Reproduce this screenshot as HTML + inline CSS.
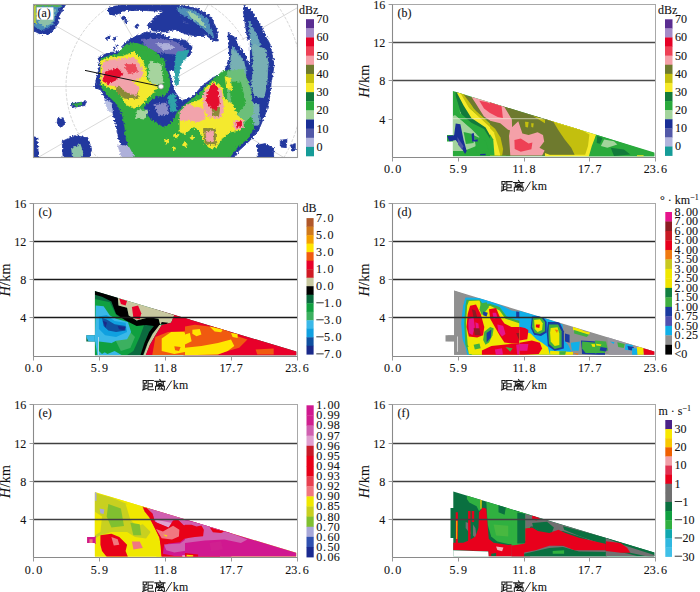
<!DOCTYPE html><html><head><meta charset="utf-8"><style>html,body{margin:0;padding:0;background:#fff;width:700px;height:592px;overflow:hidden}svg{display:block}text{stroke:#111;stroke-width:0.1px}</style></head><body><svg width="700" height="592" viewBox="0 0 700 592" style="font-family:'Liberation Serif',serif" fill="#111">
<rect width="700" height="592" fill="#fff"/>
<defs><clipPath id="ca"><rect x="33.5" y="4.1" width="263.5" height="153.3"/></clipPath></defs><g clip-path="url(#ca)">
<circle cx="161" cy="86.5" r="95" fill="none" stroke="#c4c4c4" stroke-width="0.7" stroke-dasharray="3 1.5"/>
<circle cx="161" cy="86.5" r="142" fill="none" stroke="#c4c4c4" stroke-width="0.7" stroke-dasharray="3 1.5"/>
<line x1="161" y1="86.5" x2="561.0" y2="86.5" stroke="#c8c8c8" stroke-width="0.7"/>
<line x1="161" y1="86.5" x2="507.4" y2="-113.5" stroke="#c8c8c8" stroke-width="0.7"/>
<line x1="161" y1="86.5" x2="361.0" y2="-259.9" stroke="#c8c8c8" stroke-width="0.7"/>
<line x1="161" y1="86.5" x2="161.0" y2="-313.5" stroke="#c8c8c8" stroke-width="0.7"/>
<line x1="161" y1="86.5" x2="-39.0" y2="-259.9" stroke="#c8c8c8" stroke-width="0.7"/>
<line x1="161" y1="86.5" x2="-185.4" y2="-113.5" stroke="#c8c8c8" stroke-width="0.7"/>
<line x1="161" y1="86.5" x2="-239.0" y2="86.5" stroke="#c8c8c8" stroke-width="0.7"/>
<line x1="161" y1="86.5" x2="-185.4" y2="286.5" stroke="#c8c8c8" stroke-width="0.7"/>
<line x1="161" y1="86.5" x2="-39.0" y2="432.9" stroke="#c8c8c8" stroke-width="0.7"/>
<line x1="161" y1="86.5" x2="161.0" y2="486.5" stroke="#c8c8c8" stroke-width="0.7"/>
<line x1="161" y1="86.5" x2="361.0" y2="432.9" stroke="#c8c8c8" stroke-width="0.7"/>
<line x1="161" y1="86.5" x2="507.4" y2="286.5" stroke="#c8c8c8" stroke-width="0.7"/>
<filter id="rg" x="-5%" y="-5%" width="110%" height="110%"><feTurbulence type="fractalNoise" baseFrequency="0.5" numOctaves="2" seed="7" result="t"/><feDisplacementMap in="SourceGraphic" in2="t" scale="4" xChannelSelector="R" yChannelSelector="G"/></filter><g filter="url(#rg)">
<polygon points="33.0,4.0 66.0,4.0 59.4,15.3 58.5,22.9 50.0,34.2 40.5,34.2 33.0,30.4" fill="#24389e" stroke="#24389e" stroke-width="0.8" stroke-linejoin="round"/>
<polygon points="108.4,8.7 116.0,5.9 123.5,7.8 121.6,12.5 114.1,15.3 108.4,13.4" fill="#24389e" stroke="#24389e" stroke-width="0.8" stroke-linejoin="round"/>
<polygon points="125.3,18.1 125.1,19.0 124.4,19.7 123.5,20.0 122.6,19.7 121.9,19.0 121.7,18.1 121.9,17.2 122.6,16.6 123.5,16.3 124.4,16.6 125.1,17.2" fill="#24389e" stroke="#24389e" stroke-width="0.8" stroke-linejoin="round"/>
<polygon points="127.7,21.9 127.5,22.6 127.0,23.1 126.3,23.3 125.7,23.1 125.2,22.6 125.0,21.9 125.2,21.2 125.7,20.7 126.3,20.6 127.0,20.7 127.5,21.2" fill="#24389e" stroke="#24389e" stroke-width="0.8" stroke-linejoin="round"/>
<polygon points="138.3,26.6 138.1,27.4 137.5,28.0 136.7,28.2 135.9,28.0 135.3,27.4 135.1,26.6 135.3,25.8 135.9,25.3 136.7,25.0 137.5,25.3 138.1,25.8" fill="#24389e" stroke="#24389e" stroke-width="0.8" stroke-linejoin="round"/>
<polygon points="108.8,37.9 108.7,38.6 108.2,39.1 107.5,39.3 106.8,39.1 106.3,38.6 106.1,37.9 106.3,37.3 106.8,36.8 107.5,36.6 108.2,36.8 108.7,37.3" fill="#24389e" stroke="#24389e" stroke-width="0.8" stroke-linejoin="round"/>
<polygon points="115.4,38.9 115.3,39.6 114.8,40.1 114.1,40.2 113.4,40.1 112.9,39.6 112.7,38.9 112.9,38.2 113.4,37.7 114.1,37.5 114.8,37.7 115.3,38.2" fill="#24389e" stroke="#24389e" stroke-width="0.8" stroke-linejoin="round"/>
<polygon points="115.2,48.3 115.1,48.9 114.7,49.3 114.1,49.4 113.5,49.3 113.1,48.9 113.0,48.3 113.1,47.7 113.5,47.3 114.1,47.2 114.7,47.3 115.1,47.7" fill="#24389e" stroke="#24389e" stroke-width="0.8" stroke-linejoin="round"/>
<polygon points="108.6,8.3 121.4,5.1 172.9,4.0 196.4,8.3 211.4,16.9 216.8,29.7 218.3,40.9 213.6,40.9 202.8,32.9 190.0,24.4 175.0,15.8 164.3,11.5 142.9,10.4 125.7,10.4 112.9,14.3 108.6,12.6" fill="#24389e" stroke="#24389e" stroke-width="0.8" stroke-linejoin="round"/>
<polygon points="147.1,25.4 155.7,16.9 164.3,10.4 172.9,12.6 181.4,19.0 185.7,23.3 196.4,25.4 202.8,31.9 205.0,36.6 196.4,36.1 185.7,34.0 175.0,29.7 164.3,31.9 151.4,30.8" fill="#24389e" stroke="#24389e" stroke-width="0.8" stroke-linejoin="round"/>
<polygon points="127.9,40.4 136.4,36.1 147.1,31.9 162.1,34.0 170.7,38.3 185.7,40.4 192.1,46.9 190.0,55.4 183.6,57.6 179.3,64.0 175.0,70.4 149.3,70.4 130.0,53.3 121.4,46.9" fill="#24389e" stroke="#24389e" stroke-width="0.8" stroke-linejoin="round"/>
<polygon points="126.6,18.6 126.3,19.5 125.6,20.2 124.6,20.5 123.7,20.2 123.0,19.5 122.7,18.6 123.0,17.6 123.7,16.9 124.6,16.6 125.6,16.9 126.3,17.6" fill="#24389e" stroke="#24389e" stroke-width="0.8" stroke-linejoin="round"/>
<polygon points="138.8,25.4 138.6,26.1 138.1,26.5 137.5,26.7 136.9,26.5 136.4,26.1 136.2,25.4 136.4,24.8 136.9,24.3 137.5,24.1 138.1,24.3 138.6,24.8" fill="#24389e" stroke="#24389e" stroke-width="0.8" stroke-linejoin="round"/>
<polygon points="110.1,37.2 109.9,38.0 109.3,38.5 108.6,38.7 107.8,38.5 107.3,38.0 107.1,37.2 107.3,36.5 107.8,35.9 108.6,35.7 109.3,35.9 109.9,36.5" fill="#24389e" stroke="#24389e" stroke-width="0.8" stroke-linejoin="round"/>
<polygon points="116.3,38.3 116.1,38.9 115.6,39.4 115.0,39.6 114.4,39.4 113.9,38.9 113.7,38.3 113.9,37.6 114.4,37.2 115.0,37.0 115.6,37.2 116.1,37.6" fill="#24389e" stroke="#24389e" stroke-width="0.8" stroke-linejoin="round"/>
<polygon points="118.2,45.8 118.1,46.3 117.7,46.7 117.1,46.9 116.6,46.7 116.2,46.3 116.1,45.8 116.2,45.2 116.6,44.9 117.1,44.7 117.7,44.9 118.1,45.2" fill="#24389e" stroke="#24389e" stroke-width="0.8" stroke-linejoin="round"/>
<polygon points="228.0,34.9 236.6,38.3 240.0,48.6 240.0,72.6 231.4,70.9 229.7,55.4" fill="#24389e" stroke="#24389e" stroke-width="0.8" stroke-linejoin="round"/>
<polygon points="244.2,4.9 250.8,9.7 261.2,26.6 270.6,45.5 274.0,66.2 271.5,80.9 250.8,80.9 249.9,58.7 246.5,32.3 243.3,11.5" fill="#24389e" stroke="#24389e" stroke-width="0.8" stroke-linejoin="round"/>
<polygon points="228.2,33.2 235.1,37.6 244.2,51.1 249.9,66.2 250.2,80.9 227.2,80.9 229.1,60.6 230.1,47.4" fill="#24389e" stroke="#24389e" stroke-width="0.8" stroke-linejoin="round"/>
<polygon points="99.1,57.3 108.2,52.7 133.8,50.0 150.2,50.0 148.4,57.3 159.3,57.3 166.6,64.6 170.2,75.5 173.9,90.1 181.2,101.1 192.1,97.1 203.1,87.6 210.0,84.7 210.0,158.0 131.9,158.0 119.2,141.2 115.5,123.0 111.9,110.2 100.9,90.1 94.6,87.4 96.4,79.2 99.1,68.2" fill="#24389e" stroke="#24389e" stroke-width="0.8" stroke-linejoin="round"/>
<polygon points="104.6,98.9 111.5,102.9 112.6,112.9 109.0,111.1 105.7,104.7" fill="#b8c0e4" stroke="#b8c0e4" stroke-width="0.8" stroke-linejoin="round"/>
<polygon points="70.7,103.6 85.8,101.7 84.9,105.5 72.6,107.4" fill="#24389e" stroke="#24389e" stroke-width="0.8" stroke-linejoin="round"/>
<polygon points="57.5,118.7 63.2,117.8 64.7,124.4 60.3,127.2 57.1,123.4" fill="#24389e" stroke="#24389e" stroke-width="0.8" stroke-linejoin="round"/>
<polygon points="62.2,141.3 74.5,135.7 87.7,137.6 91.5,148.9 89.6,157.9 63.2,157.9" fill="#24389e" stroke="#24389e" stroke-width="0.8" stroke-linejoin="round"/>
<polygon points="33.0,136.6 36.8,137.6 38.7,157.9 33.0,157.9" fill="#24389e" stroke="#24389e" stroke-width="0.8" stroke-linejoin="round"/>
<polygon points="117.9,145.1 134.8,147.0 138.6,157.9 121.6,157.9" fill="#aeb0da" stroke="#aeb0da" stroke-width="0.8" stroke-linejoin="round"/>
<polygon points="180.0,113.2 190.0,99.8 201.7,86.4 213.4,77.4 224.3,72.4 228.5,60.0 273.6,60.0 271.9,73.4 270.3,93.4 266.9,110.1 258.6,130.2 250.2,140.2 238.5,151.1 233.5,157.9 180.0,157.9" fill="#24389e" stroke="#24389e" stroke-width="0.8" stroke-linejoin="round"/>
<polygon points="280.3,140.2 287.0,139.4 286.1,147.7 280.3,146.9" fill="#24389e" stroke="#24389e" stroke-width="0.8" stroke-linejoin="round"/>
<polygon points="256.9,145.2 265.2,143.6 273.6,148.6 273.6,157.9 258.6,157.9" fill="#24389e" stroke="#24389e" stroke-width="0.8" stroke-linejoin="round"/>
<polygon points="290.3,145.2 295.3,143.6 295.3,150.3 292.0,151.1" fill="#24389e" stroke="#24389e" stroke-width="0.8" stroke-linejoin="round"/>
<polygon points="140.7,39.4 160.0,38.3 177.1,42.6 185.7,49.0 181.4,54.4 164.3,53.3 149.3,50.1" fill="#6a6cb8" stroke="#6a6cb8" stroke-width="0.8" stroke-linejoin="round"/>
<polygon points="155.7,43.6 168.6,43.6 175.0,47.9 164.3,50.1" fill="#aeb0da" stroke="#aeb0da" stroke-width="0.8" stroke-linejoin="round"/>
<polygon points="235.5,40.0 249.7,40.0 249.4,64.3 246.2,55.2" fill="#ffffff" stroke="#ffffff" stroke-width="0.8" stroke-linejoin="round"/>
<polygon points="35.8,5.9 61.3,5.5 55.6,15.3 53.7,22.9 48.1,28.5 40.5,29.5 34.9,26.6" fill="#4a8cb8" stroke="#4a8cb8" stroke-width="0.8" stroke-linejoin="round"/>
<polygon points="177.1,7.2 194.3,10.4 207.1,19.0 212.5,31.9 213.6,38.3 205.0,29.7 192.1,20.1 179.3,12.6" fill="#4f8fb8" stroke="#4f8fb8" stroke-width="0.8" stroke-linejoin="round"/>
<polygon points="177.1,52.2 188.9,50.1 185.7,58.6 179.3,65.1 176.1,61.9" fill="#2fa3a8" stroke="#2fa3a8" stroke-width="0.8" stroke-linejoin="round"/>
<polygon points="176.6,53.7 183.4,55.4 179.1,72.6 178.3,84.6 174.9,84.6 174.5,69.1" fill="#2fa3a8" stroke="#2fa3a8" stroke-width="0.8" stroke-linejoin="round"/>
<polygon points="248.9,21.0 257.4,36.1 262.1,53.0 263.4,80.9 255.9,80.9 253.3,58.7 250.2,36.1" fill="#6aa6b8" stroke="#6aa6b8" stroke-width="0.8" stroke-linejoin="round"/>
<polygon points="232.5,46.4 240.4,55.9 245.7,68.1 246.1,80.9 231.4,80.9 232.5,60.6" fill="#6aa6b8" stroke="#6aa6b8" stroke-width="0.8" stroke-linejoin="round"/>
<polygon points="231.7,49.1 243.9,61.3 245.4,76.5 243.9,91.7 251.5,100.9 259.1,105.4 259.1,125.2 242.4,125.2 233.3,106.9 231.7,85.6 230.2,67.4" fill="#78b0b4" stroke="#78b0b4" stroke-width="0.8" stroke-linejoin="round"/>
<polygon points="253.0,44.6 265.2,49.1 268.2,62.8 266.7,85.6 263.7,97.8 254.6,96.3 251.5,85.6 253.0,70.4 253.0,55.2" fill="#78b0b4" stroke="#78b0b4" stroke-width="0.8" stroke-linejoin="round"/>
<polygon points="246.2,75.0 249.2,85.6 253.0,97.8 260.6,100.1 259.1,103.9 251.5,100.9 245.4,91.7" fill="#24389e" stroke="#24389e" stroke-width="0.8" stroke-linejoin="round"/>
<polygon points="187.9,11.5 196.4,14.7 203.9,23.3 206.1,28.6 198.6,23.3 191.1,17.3" fill="#9ccfa8" stroke="#9ccfa8" stroke-width="0.8" stroke-linejoin="round"/>
<polygon points="116.0,55.9 126.3,44.5 134.8,42.7 146.1,46.4 153.7,51.1 165.0,60.6 165.0,66.2 116.0,66.2" fill="#31ac3f" stroke="#31ac3f" stroke-width="0.8" stroke-linejoin="round"/>
<polygon points="100.9,59.1 110.1,55.5 121.0,54.6 133.8,50.0 146.5,50.0 148.4,59.1 153.8,60.9 163.0,64.6 168.4,73.7 170.2,84.7 166.6,93.8 159.3,97.4 148.4,104.7 144.7,110.2 150.2,119.3 159.3,123.0 166.6,126.6 173.9,119.3 177.5,112.0 184.8,104.7 192.1,99.2 203.1,90.1 210.0,86.5 210.0,158.0 135.6,158.0 126.5,141.2 124.7,126.6 122.8,115.7 117.4,104.7 106.4,93.8 100.9,86.5 100.9,71.9" fill="#31ac3f" stroke="#31ac3f" stroke-width="0.8" stroke-linejoin="round"/>
<polygon points="73.5,104.0 82.0,103.3 81.7,104.9 74.5,105.9" fill="#31ac3f" stroke="#31ac3f" stroke-width="0.8" stroke-linejoin="round"/>
<polygon points="180.0,115.2 193.4,100.1 205.1,86.7 216.8,76.7 221.8,71.7 230.1,70.0 230.1,83.4 235.2,100.1 240.2,111.8 250.2,115.2 254.4,126.9 248.5,137.7 236.8,147.7 229.3,157.9 180.0,157.9" fill="#31ac3f" stroke="#31ac3f" stroke-width="0.8" stroke-linejoin="round"/>
<polygon points="227.5,71.7 243.1,69.1 250.9,89.9 253.5,113.4 243.1,123.8 232.7,118.6 227.5,97.8" fill="#6cbf7a" stroke="#6cbf7a" stroke-width="0.8" stroke-linejoin="round"/>
<polygon points="230.1,82.1 240.5,82.1 245.7,103.0 237.9,113.4 231.4,103.0" fill="#31ac3f" stroke="#31ac3f" stroke-width="0.8" stroke-linejoin="round"/>
<polygon points="144.7,106.5 155.7,97.4 166.6,95.6 173.9,97.4 175.7,108.4 170.2,123.0 163.0,126.6 152.0,119.3 144.7,112.0" fill="#24389e" stroke="#24389e" stroke-width="0.8" stroke-linejoin="round"/>
<polygon points="153.8,104.7 166.6,102.9 168.4,113.8 159.3,115.7" fill="#8a8cc8" stroke="#8a8cc8" stroke-width="0.8" stroke-linejoin="round"/>
<polygon points="167.5,96.5 174.8,93.8 176.6,110.2 172.1,112.9" fill="#2fa3a8" stroke="#2fa3a8" stroke-width="0.8" stroke-linejoin="round"/>
<polygon points="40.5,11.5 55.6,9.7 51.9,22.9 44.3,26.6 38.7,22.9" fill="#8cc0a8" stroke="#8cc0a8" stroke-width="0.8" stroke-linejoin="round"/>
<polygon points="150.2,60.9 161.1,64.6 163.0,82.8 153.8,86.5 148.4,77.4" fill="#a6d49e" stroke="#a6d49e" stroke-width="0.8" stroke-linejoin="round"/>
<polygon points="137.4,110.2 148.4,110.2 144.7,119.3 135.6,117.5" fill="#a6d49e" stroke="#a6d49e" stroke-width="0.8" stroke-linejoin="round"/>
<polygon points="71.7,148.9 80.1,144.2 83.0,152.7 81.1,157.9 72.6,157.9" fill="#8cc4a8" stroke="#8cc4a8" stroke-width="0.8" stroke-linejoin="round"/>
<polygon points="34.9,4.0 61.3,4.0 59.4,6.3 34.9,6.3" fill="#58b050" stroke="#58b050" stroke-width="0.8" stroke-linejoin="round"/>
<polygon points="33.0,4.9 35.8,4.9 35.8,22.9 33.0,22.9" fill="#b8cc3a" stroke="#b8cc3a" stroke-width="0.8" stroke-linejoin="round"/>
<polygon points="100.9,60.9 110.1,57.3 122.8,56.4 133.8,51.8 142.9,60.9 146.5,71.9 146.5,79.2 150.2,82.8 157.5,86.5 152.0,93.8 141.1,104.7 133.8,108.4 126.5,104.7 121.0,95.6 115.5,90.1 106.4,86.5 100.9,82.8" fill="#f4e92e" stroke="#f4e92e" stroke-width="0.8" stroke-linejoin="round"/>
<polygon points="168.4,141.2 168.2,142.1 167.5,142.8 166.6,143.0 165.7,142.8 165.0,142.1 164.8,141.2 165.0,140.3 165.7,139.6 166.6,139.4 167.5,139.6 168.2,140.3" fill="#f4e92e" stroke="#f4e92e" stroke-width="0.8" stroke-linejoin="round"/>
<polygon points="177.9,135.7 177.6,136.8 176.8,137.6 175.7,137.9 174.6,137.6 173.8,136.8 173.5,135.7 173.8,134.6 174.6,133.8 175.7,133.5 176.8,133.8 177.6,134.6" fill="#f4e92e" stroke="#f4e92e" stroke-width="0.8" stroke-linejoin="round"/>
<polygon points="187.0,144.8 186.7,145.9 185.9,146.7 184.8,147.0 183.7,146.7 182.9,145.9 182.7,144.8 182.9,143.7 183.7,142.9 184.8,142.7 185.9,142.9 186.7,143.7" fill="#f4e92e" stroke="#f4e92e" stroke-width="0.8" stroke-linejoin="round"/>
<polygon points="194.0,137.5 193.7,138.5 193.0,139.1 192.1,139.4 191.2,139.1 190.6,138.5 190.3,137.5 190.6,136.6 191.2,136.0 192.1,135.7 193.0,136.0 193.7,136.6" fill="#f4e92e" stroke="#f4e92e" stroke-width="0.8" stroke-linejoin="round"/>
<polygon points="175.5,148.5 175.3,149.3 174.7,149.9 173.9,150.1 173.1,149.9 172.5,149.3 172.3,148.5 172.5,147.7 173.1,147.1 173.9,146.8 174.7,147.1 175.3,147.7" fill="#f4e92e" stroke="#f4e92e" stroke-width="0.8" stroke-linejoin="round"/>
<polygon points="180.0,116.8 186.7,105.1 203.4,98.4 205.1,88.4 213.4,81.7 221.8,86.7 223.5,98.4 233.5,105.1 236.8,115.2 243.5,120.2 240.2,130.2 230.1,131.9 221.8,138.6 216.8,146.9 210.1,148.6 205.1,143.6 200.1,131.9 193.4,126.9 185.0,133.5 180.0,131.9" fill="#f4e92e" stroke="#f4e92e" stroke-width="0.8" stroke-linejoin="round"/>
<polygon points="225.1,76.7 230.1,78.4 231.8,90.1 226.8,88.4" fill="#f4e92e" stroke="#f4e92e" stroke-width="0.8" stroke-linejoin="round"/>
<polygon points="115.5,84.7 137.4,87.4 138.3,98.3 124.7,98.3 117.4,92.9" fill="#8a8a38" stroke="#8a8a38" stroke-width="0.8" stroke-linejoin="round"/>
<polygon points="185.0,113.5 196.7,110.1 200.1,118.5 188.4,118.5" fill="#8a8a38" stroke="#8a8a38" stroke-width="0.8" stroke-linejoin="round"/>
<polygon points="203.4,128.5 215.1,128.5 215.9,145.2 205.1,143.6" fill="#8a8a38" stroke="#8a8a38" stroke-width="0.8" stroke-linejoin="round"/>
<polygon points="106.4,60.9 115.5,62.8 111.9,68.2 104.6,68.2" fill="#8a8a38" stroke="#8a8a38" stroke-width="0.8" stroke-linejoin="round"/>
<polygon points="102.8,62.8 111.9,60.0 124.7,59.1 133.8,57.3 141.1,66.4 142.9,75.5 137.4,79.2 131.9,81.0 139.2,88.3 135.6,95.6 131.9,93.8 126.5,91.9 119.2,86.5 108.2,84.7 102.8,79.2" fill="#f2a3ab" stroke="#f2a3ab" stroke-width="0.8" stroke-linejoin="round"/>
<polygon points="180.0,111.8 188.4,103.5 193.4,106.8 203.4,108.5 205.1,118.5 198.4,121.8 190.0,120.2 180.0,120.2" fill="#f2a3ab" stroke="#f2a3ab" stroke-width="0.8" stroke-linejoin="round"/>
<polygon points="203.4,93.4 213.4,83.4 221.8,91.8 223.5,110.1 220.1,118.5 208.4,116.8 203.4,106.8" fill="#f2a3ab" stroke="#f2a3ab" stroke-width="0.8" stroke-linejoin="round"/>
<polygon points="205.9,131.9 213.4,131.0 213.1,141.9 206.7,141.1" fill="#f2a3ab" stroke="#f2a3ab" stroke-width="0.8" stroke-linejoin="round"/>
<polygon points="233.5,121.8 242.7,120.2 243.5,127.7 235.2,129.4" fill="#f2a3ab" stroke="#f2a3ab" stroke-width="0.8" stroke-linejoin="round"/>
<polygon points="211.8,106.8 220.1,107.6 218.4,116.8 213.4,115.2" fill="#8a8a38" stroke="#8a8a38" stroke-width="0.8" stroke-linejoin="round"/>
<polygon points="105.5,71.9 117.4,68.2 122.8,73.7 117.4,79.2 108.2,83.7 102.8,81.0" fill="#e4102e" stroke="#e4102e" stroke-width="0.8" stroke-linejoin="round"/>
<polygon points="124.7,64.6 135.6,64.6 137.4,71.9 128.3,73.7" fill="#ec4a5a" stroke="#ec4a5a" stroke-width="0.8" stroke-linejoin="round"/>
<polygon points="206.7,95.1 212.6,83.4 217.6,87.6 218.4,95.1 219.3,103.5 215.9,110.1 210.1,106.8 206.7,101.8" fill="#e4102e" stroke="#e4102e" stroke-width="0.8" stroke-linejoin="round"/>
<polygon points="236.0,122.7 241.5,121.5 241.5,126.5 237.2,127.7" fill="#e4102e" stroke="#e4102e" stroke-width="0.8" stroke-linejoin="round"/>
</g>
<line x1="85" y1="70.4" x2="161" y2="86.5" stroke="#111" stroke-width="1"/>
<circle cx="161" cy="86.5" r="2.6" fill="#fff" stroke="#888" stroke-width="0.8"/>
</g>
<rect x="33.5" y="4.5" width="264" height="153" fill="none" stroke="#9a9a9a" stroke-width="1.1"/>
<rect x="36.7" y="7.3" width="16.7" height="12.4" fill="#fff"/>
<text x="37.5" y="16.6" font-size="12" text-anchor="start" >(a)</text>
<rect x="306" y="19.20" width="8.00" height="9.42" fill="#5a2d91"/>
<rect x="306" y="28.32" width="8.00" height="9.42" fill="#a58ac8"/>
<rect x="306" y="37.44" width="8.00" height="9.42" fill="#e60026"/>
<rect x="306" y="46.56" width="8.00" height="9.42" fill="#ee4055"/>
<rect x="306" y="55.68" width="8.00" height="9.42" fill="#f4a0a8"/>
<rect x="306" y="64.80" width="8.00" height="9.42" fill="#6e7a2e"/>
<rect x="306" y="73.92" width="8.00" height="9.42" fill="#c3bf0e"/>
<rect x="306" y="83.04" width="8.00" height="9.42" fill="#f6ea2a"/>
<rect x="306" y="92.16" width="8.00" height="9.42" fill="#127a3a"/>
<rect x="306" y="101.28" width="8.00" height="9.42" fill="#2aaa3c"/>
<rect x="306" y="110.40" width="8.00" height="9.42" fill="#a3d49c"/>
<rect x="306" y="119.52" width="8.00" height="9.42" fill="#1a2f96"/>
<rect x="306" y="128.64" width="8.00" height="9.42" fill="#5258a8"/>
<rect x="306" y="137.76" width="8.00" height="9.42" fill="#b2b4dd"/>
<rect x="306" y="146.88" width="8.00" height="9.42" fill="#159c98"/>
<text transform="translate(316.50,23.10) scale(0.93,1)" font-size="13" text-anchor="start">70</text>
<text transform="translate(316.50,41.34) scale(0.93,1)" font-size="13" text-anchor="start">60</text>
<text transform="translate(316.50,59.58) scale(0.93,1)" font-size="13" text-anchor="start">50</text>
<text transform="translate(316.50,77.82) scale(0.93,1)" font-size="13" text-anchor="start">40</text>
<text transform="translate(316.50,96.06) scale(0.93,1)" font-size="13" text-anchor="start">30</text>
<text transform="translate(316.50,114.30) scale(0.93,1)" font-size="13" text-anchor="start">20</text>
<text transform="translate(316.50,132.54) scale(0.93,1)" font-size="13" text-anchor="start">10</text>
<text transform="translate(316.50,150.78) scale(0.93,1)" font-size="13" text-anchor="start">0</text>
<text x="299" y="13.5" font-size="12">dBz</text>
<defs><clipPath id="cpb"><polygon points="452.9,91.0 654.3,152.4 654.3,156.2 452.9,156.2 452.9,141.5 447.0,141.5 447.0,135.0 452.9,135.0"/></clipPath></defs><g clip-path="url(#cpb)">
<rect x="0" y="0" width="700" height="592" fill="#2aaa3c"/>
<polygon points="452.9,116.4 458.9,110.1 468.3,121.1 480.9,129.0 487.1,136.9 479.3,144.7 471.4,147.9 463.6,151.0 452.9,151.0" fill="#a3d49c"/>
<polygon points="463.6,133.7 471.4,132.1 473.0,141.6 465.1,143.1" fill="#2aaa3c"/>
<polygon points="474.6,133.7 487.1,140.0 490.3,151.0 476.1,152.6" fill="#2aaa3c"/>
<polygon points="455.7,91.3 461.2,93.6 473.0,116.4 487.1,124.3 496.6,138.4 500.5,155.2 492.6,155.2 487.1,140.0 474.6,125.9 462.0,116.4 455.7,96.0" fill="#127a3a"/>
<polygon points="452.9,103.9 454.9,94.4 460.4,113.3 471.4,122.7 484.0,129.0 491.9,141.6 491.9,155.2 485.6,155.2 480.9,138.4 471.4,129.0 462.0,121.1 454.1,114.9" fill="#2aaa3c"/>
<polygon points="454.9,114.9 462.0,121.1 471.4,130.6 479.3,136.9 477.7,144.7 468.3,147.9 460.4,146.3 454.9,132.1" fill="#a3d49c"/>
<polygon points="463.6,132.1 471.4,133.7 473.8,143.1 465.9,143.9" fill="#2aaa3c"/>
<polygon points="473.8,135.3 485.6,140.8 488.7,151.0 476.9,152.6" fill="#2aaa3c"/>
<polygon points="455.7,123.5 460.4,124.3 463.6,140.0 466.7,151.0 465.1,154.1 460.4,146.3 455.7,140.0 449.4,141.6 447.1,136.1 454.1,135.3" fill="#1a2f96"/>
<polygon points="457.3,136.9 463.6,146.3 462.0,149.4 458.1,144.7" fill="#5258a8"/>
<polygon points="471.4,133.7 473.8,132.9 474.6,140.0 477.7,139.2 477.7,141.6 472.2,141.6" fill="#1a2f96"/>
<polygon points="480.1,154.1 485.6,153.8 485.6,155.2 480.1,155.2" fill="#1a2f96"/>
<polygon points="456.5,92.1 462.0,93.6 469.9,108.6 480.9,118.0 490.3,125.9 498.1,135.3 502.9,151.0 506.0,155.2 496.6,155.2 493.4,141.6 485.6,127.4 471.4,118.0 463.6,105.4" fill="#f6ea2a"/>
<polygon points="460.4,92.9 465.9,94.7 473.8,108.6 484.8,118.8 495.8,129.0 501.6,140.0 506.0,154.1 503.6,155.2 498.5,137.6 490.6,127.7 479.3,117.2 468.6,107.3" fill="#c3bf0e"/>
<polygon points="463.6,94.4 480.9,100.7 506.0,107.0 524.9,114.1 550.0,119.6 550.0,155.2 506.0,155.2 504.4,141.6 498.1,130.6 487.1,120.4 476.1,110.9" fill="#6e7a2e"/>
<polygon points="471.4,96.8 484.0,99.9 502.9,107.0 509.1,116.4 513.9,122.7 518.6,121.1 521.7,132.1 534.3,132.1 543.7,135.3 543.7,144.7 537.4,151.0 518.6,154.1 509.1,151.0 507.6,140.0 502.9,132.1 493.4,122.7 484.0,116.4 476.1,103.9" fill="#f4a0a8"/>
<polygon points="479.3,100.7 487.1,102.3 501.3,108.6 502.9,116.4 496.6,118.0 490.3,113.3 484.0,108.6" fill="#ee4055"/>
<polygon points="513.9,138.4 520.1,140.0 528.0,144.7 532.7,147.9 518.6,151.0 515.4,147.9" fill="#ee4055"/>
<polygon points="532.7,116.4 537.4,117.2 535.9,125.9 532.7,124.3" fill="#c3bf0e"/>
<polygon points="490.0,95.0 580.0,95.0 580.0,155.4 490.0,155.4" fill="#6e7a2e"/>
<polygon points="490.0,102.1 504.1,106.6 511.9,119.4 512.1,131.0 508.0,129.7 500.3,123.3 490.0,120.7" fill="#f4a0a8"/>
<polygon points="490.0,102.1 501.6,106.3 502.9,118.1 497.7,116.9 490.0,113.0" fill="#ee4055"/>
<polygon points="490.0,132.3 495.1,137.4 497.1,146.4 497.7,155.4 490.0,155.4" fill="#127a3a"/>
<polygon points="490.0,124.6 495.1,128.7 500.5,137.4 503.1,149.0 502.2,155.4 490.0,155.4" fill="#c3bf0e"/>
<polygon points="490.0,128.2 493.9,132.3 498.0,146.4 500.3,155.4 490.0,155.4" fill="#f6ea2a"/>
<polygon points="490.0,134.2 493.2,139.3 494.5,155.4 490.0,155.4" fill="#2aaa3c"/>
<polygon points="510.3,128.7 518.3,121.3 522.4,133.6 528.6,135.1 537.6,132.3 543.0,135.1 544.2,141.5 539.5,147.7 544.6,150.5 542.1,155.4 510.3,155.4 509.0,136.1" fill="#f4a0a8"/>
<polygon points="514.4,140.0 520.8,138.4 528.6,143.6 532.4,142.6 531.4,149.2 520.8,151.8 514.7,149.0" fill="#ee4055"/>
<polygon points="532.4,115.6 544.0,119.4 580.0,128.7 580.0,152.8 572.3,152.8 567.1,143.8 563.3,138.7 554.3,131.0 545.3,123.5" fill="#c3bf0e"/>
<polygon points="545.3,119.4 559.4,123.0 567.8,128.2 556.8,131.2 549.4,125.8" fill="#f6ea2a"/>
<polygon points="525.0,121.7 528.6,122.0 528.0,127.4 525.5,127.1" fill="#c3bf0e"/>
<polygon points="531.1,123.3 533.7,123.3 533.2,127.4 531.4,127.1" fill="#c3bf0e"/>
<polygon points="569.7,151.6 580.0,150.5 580.0,155.4 569.7,155.4" fill="#2aaa3c"/>
<polygon points="549.9,119.9 569.6,125.6 587.7,130.5 596.3,134.3 594.3,142.9 589.4,157.6 545.0,157.6 545.0,119.9" fill="#f6ea2a"/>
<polygon points="548.3,119.9 564.7,125.6 582.8,130.5 589.4,134.6 588.0,146.1 585.2,154.7 549.9,154.7 545.0,153.0 545.0,119.9" fill="#c3bf0e"/>
<polygon points="545.0,119.0 553.2,121.5 558.1,129.7 564.7,139.6 571.3,147.8 574.6,154.7 549.9,154.7 545.0,153.0" fill="#6e7a2e"/>
<polygon points="596.3,134.3 627.1,144.5 660.0,155.2 660.0,159.3 588.0,159.3 591.8,146.1" fill="#2aaa3c"/>
<polygon points="610.7,147.8 623.9,149.4 630.4,154.4 614.0,156.0" fill="#127a3a"/>
<polygon points="597.2,136.0 602.5,137.9 600.0,143.7 596.7,142.9" fill="#127a3a"/>
<polygon points="604.1,139.6 614.0,141.2 617.3,144.5 607.4,147.8 600.9,146.1" fill="#a3d49c"/>
<polygon points="637.0,155.2 643.6,155.2 643.6,157.6 637.0,157.6" fill="#f6ea2a"/>
<line x1="450" x2="656" y1="118.7" y2="118.7" stroke="#f0f0e0" stroke-width="0.8" opacity="0.8"/>
</g>
<line x1="392.6" x2="655.4" y1="42.50" y2="42.50" stroke="#4a4a4a" stroke-width="1.3"/>
<line x1="392.6" x2="655.4" y1="80.50" y2="80.50" stroke="#4a4a4a" stroke-width="1.3"/>
<rect x="392.5" y="4.5" width="263.00" height="153.00" fill="none" stroke="#a8a8a8" stroke-width="1"/>
<line x1="392.5" x2="392.5" y1="4.5" y2="157.5" stroke="#8a8a8a" stroke-width="1.1"/>
<line x1="392.5" x2="655.5" y1="157.5" y2="157.5" stroke="#8a8a8a" stroke-width="1.1"/>
<line x1="388.6" x2="392.6" y1="4.50" y2="4.50" stroke="#999" stroke-width="1"/>
<text transform="translate(385.40,9.00) scale(0.93,1)" font-size="13" text-anchor="end">16</text>
<line x1="388.6" x2="392.6" y1="42.50" y2="42.50" stroke="#999" stroke-width="1"/>
<text transform="translate(385.40,47.18) scale(0.93,1)" font-size="13" text-anchor="end">12</text>
<line x1="388.6" x2="392.6" y1="80.50" y2="80.50" stroke="#999" stroke-width="1"/>
<text transform="translate(385.40,85.35) scale(0.93,1)" font-size="13" text-anchor="end">8</text>
<line x1="388.6" x2="392.6" y1="119.50" y2="119.50" stroke="#999" stroke-width="1"/>
<text transform="translate(385.40,123.53) scale(0.93,1)" font-size="13" text-anchor="end">4</text>
<line x1="392.50" x2="392.50" y1="157.5" y2="161.5" stroke="#999" stroke-width="1"/>
<text transform="translate(392.60,173.40) scale(0.93,1)" font-size="13" text-anchor="middle">0<tspan dx="0.8">.</tspan><tspan dx="1.7">0</tspan></text>
<line x1="458.50" x2="458.50" y1="157.5" y2="161.5" stroke="#999" stroke-width="1"/>
<text transform="translate(458.30,173.40) scale(0.93,1)" font-size="13" text-anchor="middle">5<tspan dx="0.8">.</tspan><tspan dx="1.7">9</tspan></text>
<line x1="524.50" x2="524.50" y1="157.5" y2="161.5" stroke="#999" stroke-width="1"/>
<text transform="translate(524.00,173.40) scale(0.93,1)" font-size="13" text-anchor="middle">11<tspan dx="0.8">.</tspan><tspan dx="1.7">8</tspan></text>
<line x1="589.50" x2="589.50" y1="157.5" y2="161.5" stroke="#999" stroke-width="1"/>
<text transform="translate(589.70,173.40) scale(0.93,1)" font-size="13" text-anchor="middle">17<tspan dx="0.8">.</tspan><tspan dx="1.7">7</tspan></text>
<line x1="655.50" x2="655.50" y1="157.5" y2="161.5" stroke="#999" stroke-width="1"/>
<text transform="translate(655.40,173.40) scale(0.93,1)" font-size="13" text-anchor="middle">23<tspan dx="0.8">.</tspan><tspan dx="1.7">6</tspan></text>
<text transform="translate(369.4,81.0) rotate(-90)" x="0" y="0" font-size="14" text-anchor="middle" letter-spacing="0.3"><tspan font-style="italic">H</tspan>/km</text>
<g transform="translate(501.20,190.80)"><g transform="translate(0,-10.2)" fill="none" stroke="#1a1a1a" stroke-width="1.05" stroke-linecap="square"><path d="M0.7,0.9H3.9V3.6H0.7Z M2.3,3.6V9.2 M2.3,6.2H4.2 M0.8,5.3V9.4 M0.2,10.4L4.6,8.6 M5.2,1H10.9 M5.6,1V10.2H11 M5.6,4.2H9.9V7.2H5.6"/><path transform="translate(12,0)" d="M5.3,-0.2L6.1,1.1 M0.4,1.8H10.6 M2.1,2.8V5.6H8.9V2.8 M3.4,3.1L7.6,5.1 M7.6,3.1L3.4,5.1 M1.1,10.9V6.6H9.9V10.2L9,10.6 M5.6,6.9L3.6,9.4H8.1 M6.9,8.1L8.2,9.6"/></g></g>
<line x1="524.60" y1="191.20" x2="530.60" y2="181.60" stroke="#1a1a1a" stroke-width="0.95"/>
<text transform="translate(531.60,190.20) scale(0.95,1)" font-size="12.5" letter-spacing="0.3">km</text>
<text x="397.6" y="16.8" font-size="12" text-anchor="start" >(b)</text>
<rect x="665" y="19.30" width="7.50" height="9.39" fill="#5a2d91"/>
<rect x="665" y="28.39" width="7.50" height="9.39" fill="#a58ac8"/>
<rect x="665" y="37.47" width="7.50" height="9.39" fill="#e60026"/>
<rect x="665" y="46.56" width="7.50" height="9.39" fill="#ee4055"/>
<rect x="665" y="55.65" width="7.50" height="9.39" fill="#f4a0a8"/>
<rect x="665" y="64.73" width="7.50" height="9.39" fill="#6e7a2e"/>
<rect x="665" y="73.82" width="7.50" height="9.39" fill="#c3bf0e"/>
<rect x="665" y="82.91" width="7.50" height="9.39" fill="#f6ea2a"/>
<rect x="665" y="91.99" width="7.50" height="9.39" fill="#127a3a"/>
<rect x="665" y="101.08" width="7.50" height="9.39" fill="#2aaa3c"/>
<rect x="665" y="110.17" width="7.50" height="9.39" fill="#a3d49c"/>
<rect x="665" y="119.25" width="7.50" height="9.39" fill="#1a2f96"/>
<rect x="665" y="128.34" width="7.50" height="9.39" fill="#5258a8"/>
<rect x="665" y="137.43" width="7.50" height="9.39" fill="#b2b4dd"/>
<rect x="665" y="146.51" width="7.50" height="9.39" fill="#159c98"/>
<text transform="translate(675.00,23.20) scale(0.93,1)" font-size="13" text-anchor="start">70</text>
<text transform="translate(675.00,41.37) scale(0.93,1)" font-size="13" text-anchor="start">60</text>
<text transform="translate(675.00,59.55) scale(0.93,1)" font-size="13" text-anchor="start">50</text>
<text transform="translate(675.00,77.72) scale(0.93,1)" font-size="13" text-anchor="start">40</text>
<text transform="translate(675.00,95.89) scale(0.93,1)" font-size="13" text-anchor="start">30</text>
<text transform="translate(675.00,114.07) scale(0.93,1)" font-size="13" text-anchor="start">20</text>
<text transform="translate(675.00,132.24) scale(0.93,1)" font-size="13" text-anchor="start">10</text>
<text transform="translate(675.00,150.41) scale(0.93,1)" font-size="13" text-anchor="start">0</text>
<text x="658" y="13.5" font-size="12">dBz</text>
<defs><clipPath id="cpc"><polygon points="94.9,291.0 296.3,351.6 296.3,355.2 94.9,355.2 94.9,341.5 86.3,341.5 86.3,335.3 94.9,335.3"/></clipPath></defs><g clip-path="url(#cpc)">
<rect x="0" y="0" width="700" height="592" fill="#0b6b3f"/>
<polygon points="183.4,310.0 300.0,310.0 300.0,359.3 183.4,359.3" fill="#e8002a"/>
<polygon points="94.9,299.1 109.9,302.3 116.1,314.9 127.1,321.1 144.4,324.3 139.7,336.9 133.4,351.0 127.1,354.9 94.9,354.9" fill="#10a040"/>
<polygon points="110.6,330.6 127.1,329.0 135.0,336.9 130.3,347.9 120.9,351.0" fill="#3cb060"/>
<polygon points="95.7,305.4 103.6,306.2 109.9,315.6 116.1,318.8 127.9,321.9 131.1,332.1 127.1,339.2 116.1,340.8 106.7,345.5 102.8,351.0 107.5,354.1 114.6,351.0 121.6,354.9 97.3,354.9 95.7,344.7 94.9,340.0" fill="#3ab8e8"/>
<polygon points="98.9,341.6 111.4,343.1 106.7,351.0 102.0,354.1 98.9,351.0" fill="#10a040"/>
<polygon points="98.9,316.4 106.7,314.9 114.6,321.1 125.6,322.7 127.1,332.1 116.1,336.9 105.1,335.3 98.9,329.0" fill="#10a0e0"/>
<polygon points="102.0,318.0 106.7,319.6 114.6,324.3 125.6,325.9 125.6,330.6 116.1,332.1 108.3,330.6 103.6,325.9" fill="#1050a0"/>
<polygon points="102.8,320.8 107.0,322.4 105.5,327.7" fill="#1a2a8a"/>
<polygon points="117.7,325.9 125.6,327.1 124.3,330.3 119.0,329.3" fill="#1a2a8a"/>
<polygon points="98.4,336.9 99.0,336.9 99.0,354.9 98.4,354.9" fill="#f0f0f0"/>
<polygon points="84.7,334.5 94.9,334.5 94.9,342.4 88.6,341.6" fill="#3ab8e8"/>
<polygon points="94.9,291.0 117.7,296.0 118.5,305.4 127.1,307.8 128.7,315.6 136.6,320.4 149.1,317.2 158.6,318.8 160.1,325.1 152.3,333.7 147.6,343.1 142.9,354.9 140.5,354.9 144.4,343.1 149.1,332.1 153.9,325.9 146.0,325.1 136.6,325.9 125.6,320.4 116.1,314.1 111.4,301.5 102.0,296.8 94.9,294.7" fill="#000000"/>
<polygon points="117.7,296.0 149.1,307.0 174.3,314.9 171.1,322.7 160.1,324.3 158.6,318.8 149.1,317.2 136.6,320.4 128.7,315.6 127.1,307.8 118.5,305.4" fill="#c8c8a0"/>
<polygon points="159.4,325.1 161.7,325.1 155.4,335.3 149.9,344.7 146.0,354.9 143.6,354.9 147.9,343.1 152.6,334.0" fill="#c8c8a0"/>
<polygon points="119.3,298.4 127.1,300.7 125.6,305.4 120.9,303.9" fill="#e8002a"/>
<polygon points="131.9,307.0 138.1,305.4 141.3,313.3 139.7,319.6 133.4,318.0" fill="#e8002a"/>
<polygon points="161.7,321.9 168.0,322.7 166.4,324.3 160.9,324.0" fill="#000000"/>
<polygon points="149.1,307.0 190.0,318.0 190.0,354.9 145.7,354.9 149.9,344.7 155.4,335.3 161.7,325.1 171.1,322.7 174.3,314.9" fill="#e8002a"/>
<polygon points="155.4,336.9 168.0,332.1 190.0,330.6 190.0,354.9 152.3,354.9" fill="#f05a10"/>
<polygon points="161.7,338.4 171.1,332.1 183.7,332.1 190.0,335.3 190.0,351.0 174.3,354.1 161.7,351.0" fill="#ffe600"/>
<polygon points="174.3,346.3 180.6,347.1 179.0,351.0 175.1,350.2" fill="#f05a10"/>
<polygon points="185.0,326.4 194.9,324.8 209.6,326.4 222.8,328.1 237.6,336.3 247.4,339.6 239.2,347.8 227.7,351.1 217.9,354.4 185.0,354.4" fill="#f05a10"/>
<polygon points="185.0,334.6 189.9,333.0 191.6,341.2 185.0,344.5" fill="#ffe600"/>
<polygon points="192.4,329.7 199.8,328.9 201.4,334.6 196.5,336.3 192.4,333.8" fill="#ffe600"/>
<polygon points="209.6,326.4 222.8,329.7 221.1,332.2 214.6,331.4" fill="#ffe600"/>
<polygon points="231.0,333.0 237.6,333.8 237.6,337.9 232.6,337.1" fill="#ffe600"/>
<polygon points="185.0,347.8 201.4,346.1 217.9,342.9 231.0,339.6 234.3,346.1 227.7,351.1 217.9,354.4 185.0,355.2" fill="#ffe600"/>
<polygon points="255.6,349.4 273.7,348.6 273.7,354.4 257.3,354.4" fill="#f05a10"/>

</g>
<line x1="33.5" x2="297.0" y1="241.50" y2="241.50" stroke="#1a1a1a" stroke-width="1.4"/>
<line x1="33.5" x2="297.0" y1="279.50" y2="279.50" stroke="#1a1a1a" stroke-width="1.4"/>
<line x1="33.5" x2="297.0" y1="317.50" y2="317.50" stroke="#1a1a1a" stroke-width="1.4"/>
<rect x="33.5" y="203.5" width="264.00" height="153.00" fill="none" stroke="#a8a8a8" stroke-width="1"/>
<line x1="33.5" x2="33.5" y1="203.5" y2="356.5" stroke="#8a8a8a" stroke-width="1.1"/>
<line x1="33.5" x2="297.5" y1="356.5" y2="356.5" stroke="#8a8a8a" stroke-width="1.1"/>
<line x1="29.5" x2="33.5" y1="203.50" y2="203.50" stroke="#999" stroke-width="1"/>
<text transform="translate(26.30,207.70) scale(0.93,1)" font-size="13" text-anchor="end">16</text>
<line x1="29.5" x2="33.5" y1="241.50" y2="241.50" stroke="#999" stroke-width="1"/>
<text transform="translate(26.30,245.95) scale(0.93,1)" font-size="13" text-anchor="end">12</text>
<line x1="29.5" x2="33.5" y1="279.50" y2="279.50" stroke="#999" stroke-width="1"/>
<text transform="translate(26.30,284.20) scale(0.93,1)" font-size="13" text-anchor="end">8</text>
<line x1="29.5" x2="33.5" y1="317.50" y2="317.50" stroke="#999" stroke-width="1"/>
<text transform="translate(26.30,322.45) scale(0.93,1)" font-size="13" text-anchor="end">4</text>
<line x1="33.50" x2="33.50" y1="356.5" y2="360.5" stroke="#999" stroke-width="1"/>
<text transform="translate(33.50,372.40) scale(0.93,1)" font-size="13" text-anchor="middle">0<tspan dx="0.8">.</tspan><tspan dx="1.7">0</tspan></text>
<line x1="99.50" x2="99.50" y1="356.5" y2="360.5" stroke="#999" stroke-width="1"/>
<text transform="translate(99.38,372.40) scale(0.93,1)" font-size="13" text-anchor="middle">5<tspan dx="0.8">.</tspan><tspan dx="1.7">9</tspan></text>
<line x1="165.50" x2="165.50" y1="356.5" y2="360.5" stroke="#999" stroke-width="1"/>
<text transform="translate(165.25,372.40) scale(0.93,1)" font-size="13" text-anchor="middle">11<tspan dx="0.8">.</tspan><tspan dx="1.7">8</tspan></text>
<line x1="231.50" x2="231.50" y1="356.5" y2="360.5" stroke="#999" stroke-width="1"/>
<text transform="translate(231.12,372.40) scale(0.93,1)" font-size="13" text-anchor="middle">17<tspan dx="0.8">.</tspan><tspan dx="1.7">7</tspan></text>
<line x1="297.50" x2="297.50" y1="356.5" y2="360.5" stroke="#999" stroke-width="1"/>
<text transform="translate(297.00,372.40) scale(0.93,1)" font-size="13" text-anchor="middle">23<tspan dx="0.8">.</tspan><tspan dx="1.7">6</tspan></text>
<text transform="translate(10.3,279.8) rotate(-90)" x="0" y="0" font-size="14" text-anchor="middle" letter-spacing="0.3"><tspan font-style="italic">H</tspan>/km</text>
<g transform="translate(142.45,389.80)"><g transform="translate(0,-10.2)" fill="none" stroke="#1a1a1a" stroke-width="1.05" stroke-linecap="square"><path d="M0.7,0.9H3.9V3.6H0.7Z M2.3,3.6V9.2 M2.3,6.2H4.2 M0.8,5.3V9.4 M0.2,10.4L4.6,8.6 M5.2,1H10.9 M5.6,1V10.2H11 M5.6,4.2H9.9V7.2H5.6"/><path transform="translate(12,0)" d="M5.3,-0.2L6.1,1.1 M0.4,1.8H10.6 M2.1,2.8V5.6H8.9V2.8 M3.4,3.1L7.6,5.1 M7.6,3.1L3.4,5.1 M1.1,10.9V6.6H9.9V10.2L9,10.6 M5.6,6.9L3.6,9.4H8.1 M6.9,8.1L8.2,9.6"/></g></g>
<line x1="165.85" y1="390.20" x2="171.85" y2="380.60" stroke="#1a1a1a" stroke-width="0.95"/>
<text transform="translate(172.85,389.20) scale(0.95,1)" font-size="12.5" letter-spacing="0.3">km</text>
<text x="38.5" y="215.5" font-size="12" text-anchor="start" >(c)</text>
<rect x="306.5" y="218.10" width="7.10" height="8.81" fill="#b0582a"/>
<rect x="306.5" y="226.61" width="7.10" height="8.81" fill="#d07a1c"/>
<rect x="306.5" y="235.12" width="7.10" height="8.81" fill="#f5a000"/>
<rect x="306.5" y="243.64" width="7.10" height="8.81" fill="#ffe600"/>
<rect x="306.5" y="252.15" width="7.10" height="8.81" fill="#f05a10"/>
<rect x="306.5" y="260.66" width="7.10" height="8.81" fill="#e8002a"/>
<rect x="306.5" y="269.18" width="7.10" height="8.81" fill="#d01a24"/>
<rect x="306.5" y="277.69" width="7.10" height="8.81" fill="#c8c8a0"/>
<rect x="306.5" y="286.20" width="7.10" height="8.81" fill="#000000"/>
<rect x="306.5" y="294.71" width="7.10" height="8.81" fill="#0b6b3f"/>
<rect x="306.5" y="303.23" width="7.10" height="8.81" fill="#10a040"/>
<rect x="306.5" y="311.74" width="7.10" height="8.81" fill="#3cb060"/>
<rect x="306.5" y="320.25" width="7.10" height="8.81" fill="#3ab8e8"/>
<rect x="306.5" y="328.76" width="7.10" height="8.81" fill="#10a0e0"/>
<rect x="306.5" y="337.27" width="7.10" height="8.81" fill="#1050a0"/>
<rect x="306.5" y="345.79" width="7.10" height="8.81" fill="#1a2a8a"/>
<text transform="translate(316.10,222.00) scale(0.93,1)" font-size="13" text-anchor="start">7<tspan dx="0.8">.</tspan><tspan dx="1.7">0</tspan></text>
<text transform="translate(316.10,239.03) scale(0.93,1)" font-size="13" text-anchor="start">5<tspan dx="0.8">.</tspan><tspan dx="1.7">0</tspan></text>
<text transform="translate(316.10,256.05) scale(0.93,1)" font-size="13" text-anchor="start">3<tspan dx="0.8">.</tspan><tspan dx="1.7">0</tspan></text>
<text transform="translate(316.10,273.07) scale(0.93,1)" font-size="13" text-anchor="start">1<tspan dx="0.8">.</tspan><tspan dx="1.7">0</tspan></text>
<text transform="translate(316.10,290.10) scale(0.93,1)" font-size="13" text-anchor="start">0<tspan dx="0.8">.</tspan><tspan dx="1.7">0</tspan></text>
<rect x="316.30" y="302.38" width="7.4" height="0.85" fill="#111"/>
<text transform="translate(324.10,307.12) scale(0.93,1)" font-size="13" text-anchor="start">1<tspan dx="0.8">.</tspan><tspan dx="1.7">0</tspan></text>
<rect x="316.30" y="319.40" width="7.4" height="0.85" fill="#111"/>
<text transform="translate(324.10,324.15) scale(0.93,1)" font-size="13" text-anchor="start">3<tspan dx="0.8">.</tspan><tspan dx="1.7">0</tspan></text>
<rect x="316.30" y="336.42" width="7.4" height="0.85" fill="#111"/>
<text transform="translate(324.10,341.17) scale(0.93,1)" font-size="13" text-anchor="start">5<tspan dx="0.8">.</tspan><tspan dx="1.7">0</tspan></text>
<rect x="316.30" y="353.45" width="7.4" height="0.85" fill="#111"/>
<text transform="translate(324.10,358.20) scale(0.93,1)" font-size="13" text-anchor="start">7<tspan dx="0.8">.</tspan><tspan dx="1.7">0</tspan></text>
<text x="302.5" y="212.3" font-size="12">dB</text>
<defs><clipPath id="cpd"><polygon points="454.1,290.5 654.3,351.4 654.3,354.8 454.1,354.8 454.1,341.5 445.5,341.5 445.5,335.3 454.1,335.3"/></clipPath></defs><g clip-path="url(#cpd)">
<rect x="0" y="0" width="700" height="592" fill="#909090"/>
<polygon points="465.4,297.5 479.5,298.0 490.2,301.0 502.0,305.7 511.4,310.5 523.3,312.8 530.0,314.0 530.0,356.5 467.7,356.5 463.0,344.7 461.2,323.5 463.0,305.7" fill="#10b0e8"/>
<polygon points="516.2,311.6 522.1,312.2 520.9,318.7 516.2,317.5" fill="#1a3aa0"/>
<polygon points="466.5,299.8 479.5,299.8 484.3,305.7 489.0,303.4 499.6,306.9 506.7,316.4 516.2,319.9 525.6,322.3 530.0,324.6 530.0,356.5 470.1,356.5 465.4,344.7 464.2,323.5 465.4,305.7" fill="#40b040"/>
<polygon points="468.9,301.0 479.5,300.4 481.9,308.1 490.2,305.7 499.6,310.5 505.5,318.7 516.2,322.3 530.0,327.0 530.0,356.5 472.5,356.5 467.7,344.7 466.0,323.5 467.1,305.7" fill="#f0e800"/>
<polygon points="480.7,303.4 486.6,302.2 489.0,306.9 485.5,311.6 481.9,315.2 479.5,309.3" fill="#40b040"/>
<polygon points="483.1,311.6 487.8,312.8 486.6,316.4 483.1,315.2" fill="#1a3aa0"/>
<polygon points="484.3,331.7 490.2,327.0 493.7,328.2 492.5,335.3 489.0,342.4 485.5,344.7 483.1,340.0" fill="#40b040"/>
<polygon points="486.6,332.9 491.4,329.4 490.8,337.6 486.6,342.4" fill="#1a3aa0"/>
<polygon points="470.1,305.7 476.0,304.5 480.7,314.0 484.3,327.0 483.1,335.3 477.2,337.6 468.9,336.4 466.5,327.0 467.7,314.0" fill="#e8001c"/>
<polygon points="468.9,318.7 473.6,317.5 474.8,327.0 472.5,335.3 468.9,332.9 468.3,323.5" fill="#e6148c"/>
<polygon points="475.4,322.3 478.4,323.5 479.0,329.4 476.0,330.5" fill="#e6148c"/>
<polygon points="471.9,309.3 475.4,310.5 477.2,317.5 473.6,317.5" fill="#8c1c22"/>
<polygon points="473.6,328.2 479.5,328.2 480.7,335.3 474.8,335.3" fill="#8c1c22"/>
<polygon points="489.0,309.3 496.1,308.1 499.6,316.4 504.4,323.5 511.4,327.0 520.9,327.0 526.8,331.7 528.0,338.8 520.9,343.5 511.4,343.5 504.4,342.4 499.6,335.3 494.9,327.0 490.2,318.7" fill="#e8001c"/>
<polygon points="492.5,312.8 496.1,312.8 497.3,317.5 493.7,318.7" fill="#e6148c"/>
<polygon points="497.3,324.6 503.2,325.8 505.5,334.1 502.0,336.4 498.4,331.7" fill="#e6148c"/>
<polygon points="516.2,332.9 523.3,332.9 525.6,337.6 518.5,338.8" fill="#8c1c22"/>
<polygon points="467.7,347.1 481.9,347.1 483.1,354.2 468.9,354.2" fill="#f0e800"/>
<polygon points="481.9,350.6 491.4,345.9 503.2,344.7 515.0,343.5 526.8,342.4 530.0,343.5 530.0,356.5 481.9,356.5" fill="#e8001c"/>
<polygon points="494.9,349.4 502.0,348.3 503.2,356.5 496.1,356.5" fill="#e6148c"/>
<polygon points="516.2,344.7 525.6,343.5 530.0,344.7 530.0,356.5 517.4,356.5" fill="#e6148c"/>
<polygon points="473.6,344.7 479.5,343.5 480.7,348.3 474.8,349.4" fill="#40b040"/>
<polygon points="505.5,347.1 512.6,348.3 510.3,351.8" fill="#40b040"/>
<polygon points="454.1,290.4 466.5,295.1 464.2,299.8 461.8,311.6 460.6,323.5 461.8,337.6 465.4,347.1 467.7,356.5 454.1,356.5" fill="#909090"/>
<polygon points="447.6,335.3 454.7,335.3 454.7,341.2 447.6,341.2" fill="#909090"/>
<polygon points="457.3,336.4 458.0,336.4 458.0,351.8 457.3,351.8" fill="#f4f4f4"/>
<polygon points="519.3,310.7 547.9,318.7 562.7,324.4 563.9,339.3 568.4,345.0 573.0,350.7 562.7,355.3 519.3,355.3" fill="#10b0e8"/>
<polygon points="562.7,324.4 605.0,337.0 605.0,355.3 573.0,355.3 568.4,345.0 563.9,339.3" fill="#909090"/>
<polygon points="519.3,330.1 530.7,333.6 536.4,339.3 542.1,342.7 547.9,347.3 550.1,355.3 519.3,355.3" fill="#f0e800"/>
<polygon points="519.3,326.7 525.0,327.9 528.4,330.1 527.3,339.3 519.3,340.4" fill="#e8001c"/>
<polygon points="519.3,342.7 531.9,340.4 539.9,342.7 542.1,348.4 538.7,354.1 519.3,355.3" fill="#e8001c"/>
<polygon points="519.3,343.9 528.4,343.9 527.3,350.7 519.3,350.7" fill="#e6148c"/>
<polygon points="531.9,316.4 542.1,315.9 546.7,322.1 546.7,332.4 541.0,335.9 534.1,334.7 530.7,327.9" fill="#1a3aa0"/>
<polygon points="533.0,317.6 541.0,317.0 545.0,322.1 545.0,331.3 539.9,334.1 534.7,333.0 531.9,326.7" fill="#40b040"/>
<polygon points="534.1,319.9 539.9,319.3 542.7,323.3 542.1,330.1 537.6,331.9 534.7,329.0" fill="#f0e800"/>
<polygon points="535.9,324.4 539.9,324.4 539.3,327.9 535.9,327.3" fill="#e8001c"/>
<polygon points="547.9,322.1 559.3,322.1 563.9,331.3 563.9,348.4 554.7,350.7 547.9,346.1 546.7,332.4" fill="#1a3aa0"/>
<polygon points="549.0,324.4 558.1,324.4 561.6,331.3 561.6,347.3 554.7,349.0 549.0,343.9 548.4,332.4" fill="#40b040"/>
<polygon points="550.7,327.9 557.6,327.3 559.3,333.6 559.3,345.0 554.7,346.1 550.7,341.6 550.1,332.4" fill="#f0e800"/>
<polygon points="554.7,329.6 558.1,330.1 557.0,333.0" fill="#f07a10"/>
<polygon points="565.0,333.6 569.6,334.7 569.6,342.7 565.0,341.6" fill="#1a3aa0"/>
<polygon points="570.7,342.7 579.9,341.6 578.7,350.7 571.9,350.7" fill="#10b0e8"/>
<polygon points="581.0,340.4 597.0,341.6 605.0,342.7 605.0,355.3 582.1,354.1" fill="#1a3aa0"/>
<polygon points="582.1,341.6 595.9,342.7 605.0,343.9 605.0,353.0 585.6,353.0 582.1,348.4" fill="#40b040"/>
<polygon points="591.3,343.9 601.6,344.4 600.4,347.3 592.4,346.7" fill="#f0e800"/>
<polygon points="573.0,326.7 579.9,329.0 584.4,331.3 590.1,332.4 589.0,334.7 579.9,332.4 573.0,330.1" fill="#f0e800"/>
<polygon points="574.1,330.1 589.0,334.7 586.7,337.0 574.1,333.6" fill="#40b040"/>
<polygon points="550.1,350.7 573.0,351.9 573.0,355.3 550.1,355.3" fill="#f0e800"/>
<polygon points="559.3,351.3 566.1,351.3 565.0,355.3 559.3,355.3" fill="#40b040"/>
<polygon points="573.0,353.0 578.7,353.6 577.6,355.3" fill="#f07a10"/>
<polygon points="606.1,320.0 660.0,320.0 660.0,357.1 608.9,357.1" fill="#98969e"/>
<polygon points="595.0,340.4 606.1,341.4 608.0,350.6 595.0,353.4" fill="#40b040"/>
<polygon points="600.6,346.9 607.1,347.9 606.1,351.6 599.6,350.6" fill="#1a3aa0"/>
<polygon points="595.9,343.7 601.5,344.6 600.6,346.0 596.4,345.5" fill="#f0e800"/>
<polygon points="609.9,341.4 614.5,342.3 613.6,344.1" fill="#10b0e8"/>
<polygon points="625.6,344.1 633.1,345.1 631.2,350.6 624.7,349.7" fill="#10b0e8"/>
<polygon points="627.5,346.0 634.0,346.9 632.1,350.6 628.4,349.7" fill="#1a3aa0"/>
<polygon points="617.3,342.3 624.7,344.1 623.8,347.9 618.2,346.9" fill="#40b040"/>
<polygon points="632.1,347.9 637.7,348.8 637.7,357.1 632.1,357.1" fill="#10b0e8"/>
<polygon points="636.8,346.9 644.2,346.9 643.3,357.1 637.7,357.1" fill="#f0e800"/>
<polygon points="643.3,347.9 660.0,351.6 660.0,357.1 644.2,357.1" fill="#e8001c"/>

</g>
<line x1="392.6" x2="655.4" y1="241.50" y2="241.50" stroke="#2a2a2a" stroke-width="1.3"/>
<line x1="392.6" x2="655.4" y1="279.50" y2="279.50" stroke="#2a2a2a" stroke-width="1.3"/>
<line x1="392.6" x2="655.4" y1="317.50" y2="317.50" stroke="#2a2a2a" stroke-width="1.3"/>
<rect x="392.5" y="203.5" width="263.00" height="153.00" fill="none" stroke="#a8a8a8" stroke-width="1"/>
<line x1="392.5" x2="392.5" y1="203.5" y2="356.5" stroke="#8a8a8a" stroke-width="1.1"/>
<line x1="392.5" x2="655.5" y1="356.5" y2="356.5" stroke="#8a8a8a" stroke-width="1.1"/>
<line x1="388.6" x2="392.6" y1="203.50" y2="203.50" stroke="#999" stroke-width="1"/>
<text transform="translate(385.40,207.70) scale(0.93,1)" font-size="13" text-anchor="end">16</text>
<line x1="388.6" x2="392.6" y1="241.50" y2="241.50" stroke="#999" stroke-width="1"/>
<text transform="translate(385.40,245.95) scale(0.93,1)" font-size="13" text-anchor="end">12</text>
<line x1="388.6" x2="392.6" y1="279.50" y2="279.50" stroke="#999" stroke-width="1"/>
<text transform="translate(385.40,284.20) scale(0.93,1)" font-size="13" text-anchor="end">8</text>
<line x1="388.6" x2="392.6" y1="317.50" y2="317.50" stroke="#999" stroke-width="1"/>
<text transform="translate(385.40,322.45) scale(0.93,1)" font-size="13" text-anchor="end">4</text>
<line x1="392.50" x2="392.50" y1="356.5" y2="360.5" stroke="#999" stroke-width="1"/>
<text transform="translate(392.60,372.40) scale(0.93,1)" font-size="13" text-anchor="middle">0<tspan dx="0.8">.</tspan><tspan dx="1.7">0</tspan></text>
<line x1="458.50" x2="458.50" y1="356.5" y2="360.5" stroke="#999" stroke-width="1"/>
<text transform="translate(458.30,372.40) scale(0.93,1)" font-size="13" text-anchor="middle">5<tspan dx="0.8">.</tspan><tspan dx="1.7">9</tspan></text>
<line x1="524.50" x2="524.50" y1="356.5" y2="360.5" stroke="#999" stroke-width="1"/>
<text transform="translate(524.00,372.40) scale(0.93,1)" font-size="13" text-anchor="middle">11<tspan dx="0.8">.</tspan><tspan dx="1.7">8</tspan></text>
<line x1="589.50" x2="589.50" y1="356.5" y2="360.5" stroke="#999" stroke-width="1"/>
<text transform="translate(589.70,372.40) scale(0.93,1)" font-size="13" text-anchor="middle">17<tspan dx="0.8">.</tspan><tspan dx="1.7">7</tspan></text>
<line x1="655.50" x2="655.50" y1="356.5" y2="360.5" stroke="#999" stroke-width="1"/>
<text transform="translate(655.40,372.40) scale(0.93,1)" font-size="13" text-anchor="middle">23<tspan dx="0.8">.</tspan><tspan dx="1.7">6</tspan></text>
<text transform="translate(369.4,279.8) rotate(-90)" x="0" y="0" font-size="14" text-anchor="middle" letter-spacing="0.3"><tspan font-style="italic">H</tspan>/km</text>
<g transform="translate(501.20,389.80)"><g transform="translate(0,-10.2)" fill="none" stroke="#1a1a1a" stroke-width="1.05" stroke-linecap="square"><path d="M0.7,0.9H3.9V3.6H0.7Z M2.3,3.6V9.2 M2.3,6.2H4.2 M0.8,5.3V9.4 M0.2,10.4L4.6,8.6 M5.2,1H10.9 M5.6,1V10.2H11 M5.6,4.2H9.9V7.2H5.6"/><path transform="translate(12,0)" d="M5.3,-0.2L6.1,1.1 M0.4,1.8H10.6 M2.1,2.8V5.6H8.9V2.8 M3.4,3.1L7.6,5.1 M7.6,3.1L3.4,5.1 M1.1,10.9V6.6H9.9V10.2L9,10.6 M5.6,6.9L3.6,9.4H8.1 M6.9,8.1L8.2,9.6"/></g></g>
<line x1="524.60" y1="390.20" x2="530.60" y2="380.60" stroke="#1a1a1a" stroke-width="0.95"/>
<text transform="translate(531.60,389.20) scale(0.95,1)" font-size="12.5" letter-spacing="0.3">km</text>
<text x="397.6" y="215.5" font-size="12" text-anchor="start" >(d)</text>
<rect x="665.3" y="212.00" width="6.70" height="9.79" fill="#e6148c"/>
<rect x="665.3" y="221.49" width="6.70" height="9.79" fill="#8c1c22"/>
<rect x="665.3" y="230.97" width="6.70" height="9.79" fill="#c81a24"/>
<rect x="665.3" y="240.46" width="6.70" height="9.79" fill="#e8001c"/>
<rect x="665.3" y="249.95" width="6.70" height="9.79" fill="#f07a10"/>
<rect x="665.3" y="259.43" width="6.70" height="9.79" fill="#c8c820"/>
<rect x="665.3" y="268.92" width="6.70" height="9.79" fill="#f0e800"/>
<rect x="665.3" y="278.41" width="6.70" height="9.79" fill="#f0e400"/>
<rect x="665.3" y="287.89" width="6.70" height="9.79" fill="#128040"/>
<rect x="665.3" y="297.38" width="6.70" height="9.79" fill="#40b040"/>
<rect x="665.3" y="306.87" width="6.70" height="9.79" fill="#1a3aa0"/>
<rect x="665.3" y="316.35" width="6.70" height="9.79" fill="#5050b0"/>
<rect x="665.3" y="325.84" width="6.70" height="9.79" fill="#10b0e8"/>
<rect x="665.3" y="335.33" width="6.70" height="9.79" fill="#909090"/>
<rect x="665.3" y="344.81" width="6.70" height="9.79" fill="#000000"/>
<text transform="translate(674.50,215.90) scale(0.93,1)" font-size="13" text-anchor="start">8<tspan dx="0.8">.</tspan><tspan dx="1.7">0</tspan>0</text>
<text transform="translate(674.50,225.39) scale(0.93,1)" font-size="13" text-anchor="start">7<tspan dx="0.8">.</tspan><tspan dx="1.7">0</tspan>0</text>
<text transform="translate(674.50,234.87) scale(0.93,1)" font-size="13" text-anchor="start">6<tspan dx="0.8">.</tspan><tspan dx="1.7">0</tspan>0</text>
<text transform="translate(674.50,244.36) scale(0.93,1)" font-size="13" text-anchor="start">5<tspan dx="0.8">.</tspan><tspan dx="1.7">0</tspan>0</text>
<text transform="translate(674.50,253.85) scale(0.93,1)" font-size="13" text-anchor="start">4<tspan dx="0.8">.</tspan><tspan dx="1.7">0</tspan>0</text>
<text transform="translate(674.50,263.33) scale(0.93,1)" font-size="13" text-anchor="start">3<tspan dx="0.8">.</tspan><tspan dx="1.7">5</tspan>0</text>
<text transform="translate(674.50,272.82) scale(0.93,1)" font-size="13" text-anchor="start">3<tspan dx="0.8">.</tspan><tspan dx="1.7">0</tspan>0</text>
<text transform="translate(674.50,282.31) scale(0.93,1)" font-size="13" text-anchor="start">2<tspan dx="0.8">.</tspan><tspan dx="1.7">5</tspan>0</text>
<text transform="translate(674.50,291.79) scale(0.93,1)" font-size="13" text-anchor="start">2<tspan dx="0.8">.</tspan><tspan dx="1.7">0</tspan>0</text>
<text transform="translate(674.50,301.28) scale(0.93,1)" font-size="13" text-anchor="start">1<tspan dx="0.8">.</tspan><tspan dx="1.7">5</tspan>0</text>
<text transform="translate(674.50,310.77) scale(0.93,1)" font-size="13" text-anchor="start">1<tspan dx="0.8">.</tspan><tspan dx="1.7">0</tspan>0</text>
<text transform="translate(674.50,320.25) scale(0.93,1)" font-size="13" text-anchor="start">0<tspan dx="0.8">.</tspan><tspan dx="1.7">7</tspan>5</text>
<text transform="translate(674.50,329.74) scale(0.93,1)" font-size="13" text-anchor="start">0<tspan dx="0.8">.</tspan><tspan dx="1.7">5</tspan>0</text>
<text transform="translate(674.50,339.23) scale(0.93,1)" font-size="13" text-anchor="start">0<tspan dx="0.8">.</tspan><tspan dx="1.7">2</tspan>5</text>
<text transform="translate(674.50,348.71) scale(0.93,1)" font-size="13" text-anchor="start">0</text>
<text transform="translate(674.50,358.20) scale(0.93,1)" font-size="13" text-anchor="start">&lt;0</text>
<text x="660" y="204" font-size="12">° · km<tspan font-size="8" dy="-4">−1</tspan></text>
<defs><clipPath id="cpe"><polygon points="94.9,492.1 296.2,552.8 296.2,556.4 94.9,556.4 94.9,543.0 87.1,543.0 87.1,537.0 94.9,537.0"/></clipPath></defs><g clip-path="url(#cpe)">
<rect x="0" y="0" width="700" height="592" fill="#f0e800"/>
<polygon points="89.4,491.3 150.7,507.0 150.7,532.1 158.6,547.9 161.7,558.9 89.4,558.9" fill="#f0e800"/>
<polygon points="89.4,492.1 94.9,492.9 111.4,497.6 127.1,503.9 131.9,516.4 142.9,524.3 150.7,532.1 146.0,538.4 135.0,536.9 127.1,532.1 111.4,532.1 100.4,535.3 94.9,538.4 89.4,538.4" fill="#c8d020"/>
<polygon points="94.9,511.7 102.0,516.4 100.4,532.1 94.9,535.3" fill="#f0e800"/>
<polygon points="125.6,503.9 131.9,505.4 136.6,516.4 142.9,524.3 136.6,525.9 130.3,519.6" fill="#f0e800"/>
<polygon points="108.3,503.9 120.9,508.6 124.0,525.9 111.4,527.4 106.7,516.4" fill="#80c030"/>
<polygon points="130.3,522.7 139.7,524.3 141.3,535.3 133.4,535.3" fill="#80c030"/>
<polygon points="99.6,508.6 104.4,509.4 103.6,514.1 100.4,513.3" fill="#a8a8d8"/>
<polygon points="94.9,492.1 96.5,492.5 96.5,500.7 94.9,500.7" fill="#a8a8d8"/>
<polygon points="100.4,535.3 111.4,533.7 119.3,536.9 127.1,544.7 125.6,551.0 128.7,558.9 108.3,558.9 102.0,551.0 100.4,544.7" fill="#e80018"/>
<polygon points="111.4,536.9 117.7,539.2 119.3,544.7 113.8,545.5" fill="#f07880"/>
<polygon points="131.9,541.6 139.7,541.6 142.9,547.9 133.4,549.4" fill="#f07880"/>
<polygon points="86.3,536.1 95.7,536.1 95.7,543.9 86.3,543.9" fill="#d01890"/>
<polygon points="89.4,539.2 92.6,539.2 92.6,543.9 89.4,543.9" fill="#f07880"/>
<polygon points="142.3,506.3 231.4,529.7 231.4,559.4 161.7,559.4 160.6,545.7 159.4,537.7 154.9,528.6 149.1,517.1 144.6,511.4" fill="#d01890"/>
<polygon points="142.3,506.3 142.9,506.9 144.6,511.4 149.1,517.1 154.9,528.6 159.4,537.7 160.6,545.7 161.7,559.4 157.1,559.4 150.6,532.0 150.6,507.0" fill="#f0e800"/>
<polygon points="144.6,506.9 220.0,527.4 220.0,528.6 209.7,527.4 201.7,526.3 193.7,527.4 183.4,525.1 177.7,519.4 173.1,520.6 168.6,527.4 154.9,521.7 152.6,513.7 146.9,508.0" fill="#d060b0"/>
<polygon points="154.9,519.4 172.0,522.9 168.6,527.4 157.1,522.9" fill="#e0a0d0"/>
<polygon points="142.9,506.9 146.9,508.0 152.6,513.7 154.9,521.7 168.6,527.4 173.1,520.6 177.7,519.4 183.4,525.1 193.7,527.4 201.7,526.3 204.0,534.3 200.6,536.6 189.1,535.4 185.7,537.7 180.0,542.3 168.6,543.4 164.0,545.7 162.9,553.7 174.3,556.0 204.0,556.0 220.0,554.9 220.0,559.4 161.7,559.4 160.6,545.7 159.4,537.7 154.9,528.6 149.1,517.1 144.6,511.4" fill="#e80018"/>
<polygon points="156.0,529.1 162.9,531.4 173.1,525.7 179.4,529.7 178.9,536.6 172.0,539.4 161.7,538.3" fill="#f07880"/>
<polygon points="162.9,534.3 167.4,535.4 166.3,536.8" fill="#f0e800"/>
<polygon points="164.0,544.6 180.0,543.4 188.0,537.7 201.7,536.6 220.0,537.7 220.0,548.0 197.1,549.1 174.3,552.6 166.3,550.3" fill="#d060b0"/>
<polygon points="188.0,542.3 220.0,540.0 220.0,554.9 188.0,553.7" fill="#d01890"/>
<polygon points="208.6,527.4 220.0,529.7 220.0,533.1 210.9,530.9" fill="#e80018"/>
<polygon points="182.3,555.4 192.6,555.4 192.6,558.3 182.3,558.3" fill="#ffffff"/>
<polygon points="185.0,519.9 300.0,536.3 300.0,559.3 185.0,559.3" fill="#d01890"/>
<polygon points="185.0,520.2 204.7,524.5 224.4,531.4 234.3,534.6 247.4,539.6 240.9,542.9 224.4,539.6 204.7,540.4 185.0,542.9" fill="#d060b0"/>
<polygon points="185.0,524.8 191.6,524.8 196.5,526.4 201.4,525.6 203.9,529.7 203.1,536.3 194.9,537.1 188.3,537.9 185.0,538.7" fill="#e80018"/>
<polygon points="209.6,542.9 221.1,541.2 222.8,549.4 211.3,551.1" fill="#d02090"/>
<polygon points="209.6,527.2 217.9,529.7 224.4,531.4 221.1,533.0 212.9,532.2" fill="#e80018"/>
<polygon points="185.0,553.0 198.1,554.4 198.1,559.3 185.0,559.3" fill="#e80018"/>
<polygon points="186.6,554.7 193.2,555.2 193.2,559.3 186.6,559.3" fill="#f0e800"/>

</g>
<line x1="33.5" x2="297.0" y1="443.50" y2="443.50" stroke="#404040" stroke-width="1.3"/>
<line x1="33.5" x2="297.0" y1="481.50" y2="481.50" stroke="#404040" stroke-width="1.3"/>
<line x1="33.5" x2="297.0" y1="519.50" y2="519.50" stroke="#404040" stroke-width="1.3"/>
<rect x="33.5" y="404.5" width="264.00" height="153.00" fill="none" stroke="#a8a8a8" stroke-width="1"/>
<line x1="33.5" x2="33.5" y1="404.5" y2="557.5" stroke="#8a8a8a" stroke-width="1.1"/>
<line x1="33.5" x2="297.5" y1="557.5" y2="557.5" stroke="#8a8a8a" stroke-width="1.1"/>
<line x1="29.5" x2="33.5" y1="404.50" y2="404.50" stroke="#999" stroke-width="1"/>
<text transform="translate(26.30,409.40) scale(0.93,1)" font-size="13" text-anchor="end">16</text>
<line x1="29.5" x2="33.5" y1="443.50" y2="443.50" stroke="#999" stroke-width="1"/>
<text transform="translate(26.30,447.60) scale(0.93,1)" font-size="13" text-anchor="end">12</text>
<line x1="29.5" x2="33.5" y1="481.50" y2="481.50" stroke="#999" stroke-width="1"/>
<text transform="translate(26.30,485.80) scale(0.93,1)" font-size="13" text-anchor="end">8</text>
<line x1="29.5" x2="33.5" y1="519.50" y2="519.50" stroke="#999" stroke-width="1"/>
<text transform="translate(26.30,524.00) scale(0.93,1)" font-size="13" text-anchor="end">4</text>
<line x1="33.50" x2="33.50" y1="557.5" y2="561.5" stroke="#999" stroke-width="1"/>
<text transform="translate(33.50,573.90) scale(0.93,1)" font-size="13" text-anchor="middle">0<tspan dx="0.8">.</tspan><tspan dx="1.7">0</tspan></text>
<line x1="99.50" x2="99.50" y1="557.5" y2="561.5" stroke="#999" stroke-width="1"/>
<text transform="translate(99.38,573.90) scale(0.93,1)" font-size="13" text-anchor="middle">5<tspan dx="0.8">.</tspan><tspan dx="1.7">9</tspan></text>
<line x1="165.50" x2="165.50" y1="557.5" y2="561.5" stroke="#999" stroke-width="1"/>
<text transform="translate(165.25,573.90) scale(0.93,1)" font-size="13" text-anchor="middle">11<tspan dx="0.8">.</tspan><tspan dx="1.7">8</tspan></text>
<line x1="231.50" x2="231.50" y1="557.5" y2="561.5" stroke="#999" stroke-width="1"/>
<text transform="translate(231.12,573.90) scale(0.93,1)" font-size="13" text-anchor="middle">17<tspan dx="0.8">.</tspan><tspan dx="1.7">7</tspan></text>
<line x1="297.50" x2="297.50" y1="557.5" y2="561.5" stroke="#999" stroke-width="1"/>
<text transform="translate(297.00,573.90) scale(0.93,1)" font-size="13" text-anchor="middle">23<tspan dx="0.8">.</tspan><tspan dx="1.7">6</tspan></text>
<text transform="translate(10.3,481.4) rotate(-90)" x="0" y="0" font-size="14" text-anchor="middle" letter-spacing="0.3"><tspan font-style="italic">H</tspan>/km</text>
<g transform="translate(142.45,591.30)"><g transform="translate(0,-10.2)" fill="none" stroke="#1a1a1a" stroke-width="1.05" stroke-linecap="square"><path d="M0.7,0.9H3.9V3.6H0.7Z M2.3,3.6V9.2 M2.3,6.2H4.2 M0.8,5.3V9.4 M0.2,10.4L4.6,8.6 M5.2,1H10.9 M5.6,1V10.2H11 M5.6,4.2H9.9V7.2H5.6"/><path transform="translate(12,0)" d="M5.3,-0.2L6.1,1.1 M0.4,1.8H10.6 M2.1,2.8V5.6H8.9V2.8 M3.4,3.1L7.6,5.1 M7.6,3.1L3.4,5.1 M1.1,10.9V6.6H9.9V10.2L9,10.6 M5.6,6.9L3.6,9.4H8.1 M6.9,8.1L8.2,9.6"/></g></g>
<line x1="165.85" y1="591.70" x2="171.85" y2="582.10" stroke="#1a1a1a" stroke-width="0.95"/>
<text transform="translate(172.85,590.70) scale(0.95,1)" font-size="12.5" letter-spacing="0.3">km</text>
<text x="38.5" y="417.2" font-size="12" text-anchor="start" >(e)</text>
<rect x="306.5" y="405.30" width="7.20" height="10.42" fill="#d01890"/>
<rect x="306.5" y="415.42" width="7.20" height="10.42" fill="#d02090"/>
<rect x="306.5" y="425.54" width="7.20" height="10.42" fill="#d060b0"/>
<rect x="306.5" y="435.66" width="7.20" height="10.42" fill="#e0a0d0"/>
<rect x="306.5" y="445.78" width="7.20" height="10.42" fill="#c81a28"/>
<rect x="306.5" y="455.90" width="7.20" height="10.42" fill="#e80018"/>
<rect x="306.5" y="466.02" width="7.20" height="10.42" fill="#e80018"/>
<rect x="306.5" y="476.14" width="7.20" height="10.42" fill="#e84050"/>
<rect x="306.5" y="486.26" width="7.20" height="10.42" fill="#f07880"/>
<rect x="306.5" y="496.38" width="7.20" height="10.42" fill="#f0e800"/>
<rect x="306.5" y="506.50" width="7.20" height="10.42" fill="#c8d020"/>
<rect x="306.5" y="516.62" width="7.20" height="10.42" fill="#80c030"/>
<rect x="306.5" y="526.74" width="7.20" height="10.42" fill="#a8a8d8"/>
<rect x="306.5" y="536.86" width="7.20" height="10.42" fill="#3050b0"/>
<rect x="306.5" y="546.98" width="7.20" height="10.42" fill="#1a2a90"/>
<text transform="translate(316.20,409.20) scale(0.93,1)" font-size="13" text-anchor="start">1<tspan dx="0.8">.</tspan><tspan dx="1.7">0</tspan>0</text>
<text transform="translate(316.20,419.32) scale(0.93,1)" font-size="13" text-anchor="start">0<tspan dx="0.8">.</tspan><tspan dx="1.7">9</tspan>9</text>
<text transform="translate(316.20,429.44) scale(0.93,1)" font-size="13" text-anchor="start">0<tspan dx="0.8">.</tspan><tspan dx="1.7">9</tspan>8</text>
<text transform="translate(316.20,439.56) scale(0.93,1)" font-size="13" text-anchor="start">0<tspan dx="0.8">.</tspan><tspan dx="1.7">9</tspan>7</text>
<text transform="translate(316.20,449.68) scale(0.93,1)" font-size="13" text-anchor="start">0<tspan dx="0.8">.</tspan><tspan dx="1.7">9</tspan>6</text>
<text transform="translate(316.20,459.80) scale(0.93,1)" font-size="13" text-anchor="start">0<tspan dx="0.8">.</tspan><tspan dx="1.7">9</tspan>5</text>
<text transform="translate(316.20,469.92) scale(0.93,1)" font-size="13" text-anchor="start">0<tspan dx="0.8">.</tspan><tspan dx="1.7">9</tspan>4</text>
<text transform="translate(316.20,480.04) scale(0.93,1)" font-size="13" text-anchor="start">0<tspan dx="0.8">.</tspan><tspan dx="1.7">9</tspan>3</text>
<text transform="translate(316.20,490.16) scale(0.93,1)" font-size="13" text-anchor="start">0<tspan dx="0.8">.</tspan><tspan dx="1.7">9</tspan>2</text>
<text transform="translate(316.20,500.28) scale(0.93,1)" font-size="13" text-anchor="start">0<tspan dx="0.8">.</tspan><tspan dx="1.7">9</tspan>0</text>
<text transform="translate(316.20,510.40) scale(0.93,1)" font-size="13" text-anchor="start">0<tspan dx="0.8">.</tspan><tspan dx="1.7">8</tspan>5</text>
<text transform="translate(316.20,520.52) scale(0.93,1)" font-size="13" text-anchor="start">0<tspan dx="0.8">.</tspan><tspan dx="1.7">8</tspan>0</text>
<text transform="translate(316.20,530.64) scale(0.93,1)" font-size="13" text-anchor="start">0<tspan dx="0.8">.</tspan><tspan dx="1.7">7</tspan>0</text>
<text transform="translate(316.20,540.76) scale(0.93,1)" font-size="13" text-anchor="start">0<tspan dx="0.8">.</tspan><tspan dx="1.7">6</tspan>0</text>
<text transform="translate(316.20,550.88) scale(0.93,1)" font-size="13" text-anchor="start">0<tspan dx="0.8">.</tspan><tspan dx="1.7">5</tspan>0</text>
<text transform="translate(316.20,561.00) scale(0.93,1)" font-size="13" text-anchor="start">0<tspan dx="0.8">.</tspan><tspan dx="1.7">0</tspan>6</text>
<defs><clipPath id="cpf"><polygon points="453.3,491.6 654.3,552.4 654.3,556.2 453.3,556.2 453.3,538.0 450.5,538.0 450.5,508.0 453.3,508.0"/></clipPath></defs><g clip-path="url(#cpf)">
<rect x="0" y="0" width="700" height="592" fill="#0a7040"/>
<polygon points="466.9,495.3 481.5,498.9 481.5,508.7 479.0,511.1 476.6,506.2 469.3,502.6 466.9,498.9" fill="#30b040"/>
<polygon points="486.3,501.4 530.1,514.1 530.1,539.1 517.9,543.9 508.2,543.9 497.3,541.5 491.2,536.6 487.6,524.5" fill="#30b040"/>
<polygon points="493.6,524.5 508.2,525.7 508.2,536.6 496.1,535.4" fill="#48b840"/>
<polygon points="498.5,505.0 505.8,507.5 504.6,514.7 498.5,512.3" fill="#0a7040"/>
<polygon points="514.3,509.9 519.2,511.1 517.9,518.4 514.9,517.2" fill="#0a7040"/>
<polygon points="465.7,522.0 469.3,523.3 470.5,534.2 465.7,528.1" fill="#707070"/>
<polygon points="473.0,524.5 475.4,528.1 476.6,539.1 473.0,535.4" fill="#707070"/>
<polygon points="455.7,512.3 457.9,512.3 457.9,543.9 455.7,543.9" fill="#e8001c"/>
<polygon points="468.1,511.1 470.5,511.1 470.5,542.7 468.1,542.7" fill="#e8001c"/>
<polygon points="471.7,511.1 474.2,511.1 474.2,522.0 471.7,522.0" fill="#e8001c"/>
<polygon points="479.0,512.3 482.7,507.5 486.3,508.7 487.6,524.5 488.8,539.1 493.6,542.7 508.2,545.1 517.9,543.3 530.1,541.5 530.1,560.9 488.8,560.9 488.2,551.2 452.3,550.0 452.3,542.7 463.2,542.7 469.3,540.3 475.4,536.6 478.4,528.1" fill="#e8001c"/>
<polygon points="480.3,498.9 481.7,498.9 481.5,508.7 480.5,508.7" fill="#f8c800"/>
<polygon points="456.2,520.8 457.4,520.8 457.2,539.1 456.2,539.1" fill="#f8c800"/>
<polygon points="496.1,546.4 503.4,547.6 502.1,551.2 497.3,550.0" fill="#f4b0b8"/>
<polygon points="449.9,550.2 488.2,551.5 489.0,560.9 449.9,560.9" fill="#ffffff"/>
<polygon points="491.2,553.7 496.1,553.0 496.1,556.1 491.2,556.1" fill="#0a7040"/>
<polygon points="511.6,510.3 524.1,512.6 524.1,545.7 511.6,545.7" fill="#30b040"/>
<polygon points="517.3,512.6 525.3,513.7 525.3,543.4 517.3,543.4" fill="#0a7040"/>
<polygon points="525.3,513.7 606.4,537.7 606.4,548.0 583.6,537.7 563.0,530.9 549.3,532.0 537.9,529.7 532.1,526.3 525.3,528.6" fill="#707070"/>
<polygon points="532.1,514.9 540.1,518.3 536.7,520.6 532.1,519.4" fill="#e8001c"/>
<polygon points="532.1,522.9 547.0,521.7 553.9,527.4 551.6,533.1 541.3,532.0 533.3,527.4" fill="#0a7040"/>
<polygon points="563.0,526.3 606.4,537.7 606.4,545.7 577.9,535.4 564.1,529.7" fill="#0a7040"/>
<polygon points="511.6,545.7 525.3,543.4 549.3,544.6 606.4,550.3 606.4,557.1 511.6,557.1" fill="#707070"/>
<polygon points="524.1,553.7 549.3,548.0 563.0,546.9 579.0,551.4 606.4,552.0 606.4,557.1 524.1,557.1" fill="#0a7040"/>
<polygon points="525.3,528.6 532.1,527.4 537.9,530.9 549.3,533.1 558.4,529.7 565.3,533.1 579.0,537.7 606.4,544.0 606.4,550.3 574.4,550.3 563.0,545.7 549.3,545.7 535.6,550.3 524.1,552.6 511.6,553.7 511.6,545.7 525.3,543.4" fill="#e8001c"/>
<polygon points="511.6,545.7 524.1,545.7 524.1,557.1 511.6,557.1" fill="#e8001c"/>
<polygon points="552.7,550.9 564.1,550.3 564.1,553.7 552.7,553.7" fill="#30b040"/>
<polygon points="605.8,534.6 660.0,551.1 660.0,559.3 605.8,559.3" fill="#0a7040"/>
<polygon points="605.8,537.9 623.9,545.3 637.0,549.4 660.0,556.8 660.0,559.3 630.4,552.7 618.9,547.0 605.8,542.9" fill="#707070"/>
<polygon points="605.8,549.4 627.1,553.5 637.0,556.0 605.8,556.0" fill="#707070"/>
<polygon points="605.8,541.2 620.6,542.9 627.1,547.8 630.4,552.7 620.6,552.7 605.8,551.1" fill="#e8001c"/>

</g>
<line x1="392.6" x2="655.4" y1="443.50" y2="443.50" stroke="#404040" stroke-width="1.3"/>
<line x1="392.6" x2="655.4" y1="481.50" y2="481.50" stroke="#404040" stroke-width="1.3"/>
<line x1="392.6" x2="655.4" y1="519.50" y2="519.50" stroke="#404040" stroke-width="1.3"/>
<rect x="392.5" y="404.5" width="263.00" height="153.00" fill="none" stroke="#a8a8a8" stroke-width="1"/>
<line x1="392.5" x2="392.5" y1="404.5" y2="557.5" stroke="#8a8a8a" stroke-width="1.1"/>
<line x1="392.5" x2="655.5" y1="557.5" y2="557.5" stroke="#8a8a8a" stroke-width="1.1"/>
<line x1="388.6" x2="392.6" y1="404.50" y2="404.50" stroke="#999" stroke-width="1"/>
<text transform="translate(385.40,409.40) scale(0.93,1)" font-size="13" text-anchor="end">16</text>
<line x1="388.6" x2="392.6" y1="443.50" y2="443.50" stroke="#999" stroke-width="1"/>
<text transform="translate(385.40,447.60) scale(0.93,1)" font-size="13" text-anchor="end">12</text>
<line x1="388.6" x2="392.6" y1="481.50" y2="481.50" stroke="#999" stroke-width="1"/>
<text transform="translate(385.40,485.80) scale(0.93,1)" font-size="13" text-anchor="end">8</text>
<line x1="388.6" x2="392.6" y1="519.50" y2="519.50" stroke="#999" stroke-width="1"/>
<text transform="translate(385.40,524.00) scale(0.93,1)" font-size="13" text-anchor="end">4</text>
<line x1="392.50" x2="392.50" y1="557.5" y2="561.5" stroke="#999" stroke-width="1"/>
<text transform="translate(392.60,573.90) scale(0.93,1)" font-size="13" text-anchor="middle">0<tspan dx="0.8">.</tspan><tspan dx="1.7">0</tspan></text>
<line x1="458.50" x2="458.50" y1="557.5" y2="561.5" stroke="#999" stroke-width="1"/>
<text transform="translate(458.30,573.90) scale(0.93,1)" font-size="13" text-anchor="middle">5<tspan dx="0.8">.</tspan><tspan dx="1.7">9</tspan></text>
<line x1="524.50" x2="524.50" y1="557.5" y2="561.5" stroke="#999" stroke-width="1"/>
<text transform="translate(524.00,573.90) scale(0.93,1)" font-size="13" text-anchor="middle">11<tspan dx="0.8">.</tspan><tspan dx="1.7">8</tspan></text>
<line x1="589.50" x2="589.50" y1="557.5" y2="561.5" stroke="#999" stroke-width="1"/>
<text transform="translate(589.70,573.90) scale(0.93,1)" font-size="13" text-anchor="middle">17<tspan dx="0.8">.</tspan><tspan dx="1.7">7</tspan></text>
<line x1="655.50" x2="655.50" y1="557.5" y2="561.5" stroke="#999" stroke-width="1"/>
<text transform="translate(655.40,573.90) scale(0.93,1)" font-size="13" text-anchor="middle">23<tspan dx="0.8">.</tspan><tspan dx="1.7">6</tspan></text>
<text transform="translate(369.4,481.4) rotate(-90)" x="0" y="0" font-size="14" text-anchor="middle" letter-spacing="0.3"><tspan font-style="italic">H</tspan>/km</text>
<g transform="translate(501.20,591.30)"><g transform="translate(0,-10.2)" fill="none" stroke="#1a1a1a" stroke-width="1.05" stroke-linecap="square"><path d="M0.7,0.9H3.9V3.6H0.7Z M2.3,3.6V9.2 M2.3,6.2H4.2 M0.8,5.3V9.4 M0.2,10.4L4.6,8.6 M5.2,1H10.9 M5.6,1V10.2H11 M5.6,4.2H9.9V7.2H5.6"/><path transform="translate(12,0)" d="M5.3,-0.2L6.1,1.1 M0.4,1.8H10.6 M2.1,2.8V5.6H8.9V2.8 M3.4,3.1L7.6,5.1 M7.6,3.1L3.4,5.1 M1.1,10.9V6.6H9.9V10.2L9,10.6 M5.6,6.9L3.6,9.4H8.1 M6.9,8.1L8.2,9.6"/></g></g>
<line x1="524.60" y1="591.70" x2="530.60" y2="582.10" stroke="#1a1a1a" stroke-width="0.95"/>
<text transform="translate(531.60,590.70) scale(0.95,1)" font-size="12.5" letter-spacing="0.3">km</text>
<text x="397.6" y="417.2" font-size="12" text-anchor="start" >(f)</text>
<rect x="665.3" y="420.00" width="6.70" height="9.41" fill="#4a2288"/>
<rect x="665.3" y="429.11" width="6.70" height="9.41" fill="#f8e800"/>
<rect x="665.3" y="438.21" width="6.70" height="9.41" fill="#f8c800"/>
<rect x="665.3" y="447.32" width="6.70" height="9.41" fill="#f06000"/>
<rect x="665.3" y="456.43" width="6.70" height="9.41" fill="#f0a0a8"/>
<rect x="665.3" y="465.53" width="6.70" height="9.41" fill="#e03050"/>
<rect x="665.3" y="474.64" width="6.70" height="9.41" fill="#e8001c"/>
<rect x="665.3" y="483.75" width="6.70" height="9.41" fill="#707070"/>
<rect x="665.3" y="492.85" width="6.70" height="9.41" fill="#707070"/>
<rect x="665.3" y="501.96" width="6.70" height="9.41" fill="#0a7040"/>
<rect x="665.3" y="511.07" width="6.70" height="9.41" fill="#10a040"/>
<rect x="665.3" y="520.17" width="6.70" height="9.41" fill="#30b040"/>
<rect x="665.3" y="529.28" width="6.70" height="9.41" fill="#10a8b0"/>
<rect x="665.3" y="538.39" width="6.70" height="9.41" fill="#30b8e0"/>
<rect x="665.3" y="547.49" width="6.70" height="9.41" fill="#40c0e8"/>
<text transform="translate(674.50,433.01) scale(0.93,1)" font-size="13" text-anchor="start">30</text>
<text transform="translate(674.50,451.22) scale(0.93,1)" font-size="13" text-anchor="start">20</text>
<text transform="translate(674.50,469.43) scale(0.93,1)" font-size="13" text-anchor="start">10</text>
<text transform="translate(674.50,487.65) scale(0.93,1)" font-size="13" text-anchor="start">1</text>
<rect x="674.70" y="501.11" width="7.4" height="0.85" fill="#111"/>
<text transform="translate(682.50,505.86) scale(0.93,1)" font-size="13" text-anchor="start">1</text>
<rect x="674.70" y="519.32" width="7.4" height="0.85" fill="#111"/>
<text transform="translate(682.50,524.07) scale(0.93,1)" font-size="13" text-anchor="start">10</text>
<rect x="674.70" y="537.54" width="7.4" height="0.85" fill="#111"/>
<text transform="translate(682.50,542.29) scale(0.93,1)" font-size="13" text-anchor="start">20</text>
<rect x="674.70" y="555.75" width="7.4" height="0.85" fill="#111"/>
<text transform="translate(682.50,560.50) scale(0.93,1)" font-size="13" text-anchor="start">30</text>
<text x="658.5" y="414.5" font-size="12">m · s<tspan font-size="8" dy="-4">−1</tspan></text>
</svg></body></html>
